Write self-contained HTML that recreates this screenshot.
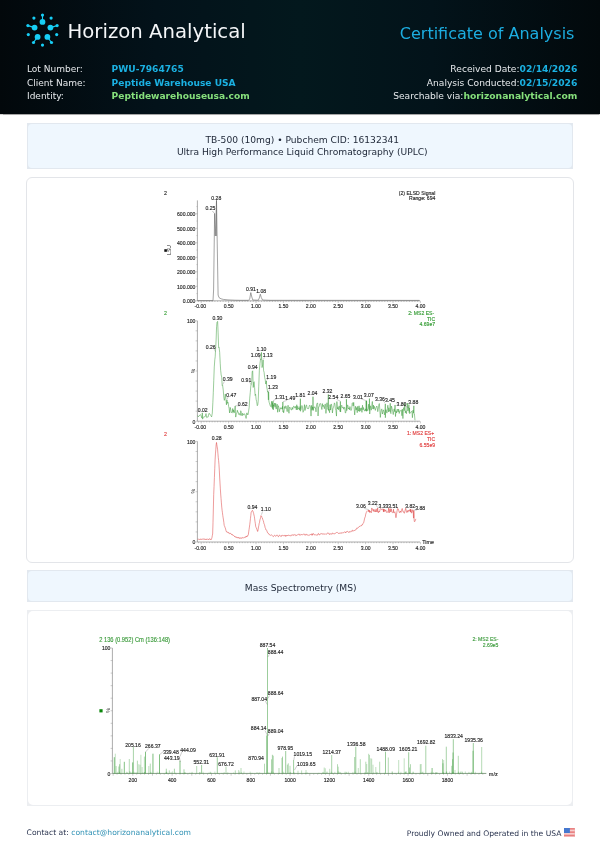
<!DOCTYPE html>
<html lang="en">
<head>
<meta charset="utf-8">
<title>Certificate of Analysis - Horizon Analytical</title>
<style>
*{margin:0;padding:0;box-sizing:border-box}
html,body{width:600px;height:849px;overflow:hidden;background:#fff}
body{position:relative;font-family:"DejaVu Sans","Liberation Sans",sans-serif;color:#1e2a3a}
.hdr{position:absolute;left:0;top:0;width:600px;height:114px;
 background:linear-gradient(90deg,#02080b 0%,#03121a 26%,#03181d 50%,#03131a 72%,#02090c 100%);box-shadow:0 0.6px 1px rgba(0,0,0,.35)}
.logo{position:absolute;left:24px;top:12px;width:38px;height:37px}
.brand{position:absolute;left:67.5px;top:20.2px;font-size:19.7px;color:#f4f6f8;white-space:nowrap;letter-spacing:0}
.coa{position:absolute;right:25.6px;top:24px;font-size:16px;color:#1cade0;white-space:nowrap}
.info{position:absolute;font-size:9px;line-height:11px;white-space:nowrap;color:#e6e9ec}
.info.l{left:27px}
.info.l span{display:inline-block}
.info.l .k{width:84.6px}
.info.r{right:22.6px;text-align:right;font-size:9.12px}
.info.r .b{font-size:9.2px}
.b{font-weight:bold;font-size:9.1px}
.cy{color:#1bb1e2}
.gr{color:#86e07c}
.box{position:absolute;left:27px;width:546px}
.tbox{background:#e2e8ef;padding:1px}
.tbox .in{background:#eff7fe;border-radius:4px;height:100%;text-align:center;color:#1d2636;font-size:9.13px}
.b1{top:122.5px;height:46.5px}
.b1 .in{padding-top:10.2px;padding-left:4.6px;line-height:12.6px}
.b2{top:177px;left:26px;width:548px;height:386px;border:1px solid #e3e5e9;border-radius:6px}
.b3{top:570px;height:31.7px}
.b3 .in{padding-top:11.1px;padding-left:1.4px;line-height:12px}
.b4{top:610px;height:196.3px;background:#eceef1;padding:1px}
.b4 .in{background:#fff;border-radius:5px;height:100%}
.foot{position:absolute;top:827.8px;font-size:7.62px;color:#2b3550;white-space:nowrap;line-height:10px}
.foot.l{left:26.6px}
.foot.r{right:25.5px}
.foot a{color:#3192b5;text-decoration:none}
.flag{display:inline-block;width:10.8px;height:9.3px;vertical-align:-1.6px;margin-left:2.3px}
svg.charts{position:absolute;left:0;top:0;width:600px;height:849px;font-family:"Liberation Sans",Arial,sans-serif}
</style>
</head>
<body>
<div class="hdr">
  <svg class="logo" viewBox="24 12 38 37" width="38" height="37">
    <g fill="#17cef5" stroke="#17cef5">
      <g stroke-width="1.1">
        <line x1="42.5" y1="15.1" x2="42.5" y2="21.9"/>
        <line x1="27.9" y1="25.6" x2="34.6" y2="27.6"/>
        <line x1="57.1" y1="25.6" x2="50.4" y2="27.6"/>
        <line x1="33.5" y1="42.5" x2="37.6" y2="36.9"/>
        <line x1="51.5" y1="42.5" x2="47.4" y2="36.9"/>
      </g>
      <g stroke="none">
        <circle cx="42.5" cy="21.9" r="2.9"/>
        <circle cx="34.6" cy="27.6" r="2.9"/>
        <circle cx="50.4" cy="27.6" r="2.9"/>
        <circle cx="37.6" cy="36.9" r="2.9"/>
        <circle cx="47.4" cy="36.9" r="2.9"/>
        <circle cx="42.5" cy="15.1" r="1.6"/>
        <circle cx="27.9" cy="25.6" r="1.6"/>
        <circle cx="57.1" cy="25.6" r="1.6"/>
        <circle cx="33.5" cy="42.5" r="1.6"/>
        <circle cx="51.5" cy="42.5" r="1.6"/>
        <circle cx="33.9" cy="18.1" r="1.6"/>
        <circle cx="51.1" cy="18.1" r="1.6"/>
        <circle cx="28.3" cy="34.6" r="1.6"/>
        <circle cx="56.7" cy="34.6" r="1.6"/>
        <circle cx="42.5" cy="45.1" r="1.6"/>
      </g>
    </g>
  </svg>
  <div class="brand">Horizon Analytical</div>
  <div class="coa">Certificate of Analysis</div>
  <div class="info l" style="top:64.1px"><span class="k">Lot Number:</span><span class="b cy">PWU-7964765</span></div>
  <div class="info l" style="top:77.5px"><span class="k">Client Name:</span><span class="b cy">Peptide Warehouse USA</span></div>
  <div class="info l" style="top:90.9px"><span class="k">Identity:</span><span class="b gr">Peptidewarehouseusa.com</span></div>
  <div class="info r" style="top:63.3px">Received Date:<span class="b cy">02/14/2026</span></div>
  <div class="info r" style="top:76.7px">Analysis Conducted:<span class="b cy">02/15/2026</span></div>
  <div class="info r" style="top:90.1px">Searchable via:<span class="b gr">horizonanalytical.com</span></div>
</div>
</div>

<div class="box tbox b1"><div class="in">TB-500 (10mg) • Pubchem CID: 16132341<br>Ultra High Performance Liquid Chromatography (UPLC)</div></div>
<div class="box b2"></div>
<div class="box tbox b3"><div class="in">Mass Spectrometry (MS)</div></div>
<div class="box b4"><div class="in"></div></div>

<svg class="charts" viewBox="0 0 600 849" width="600" height="849">
<text transform="translate(165.5 194.6) scale(0.9 1)" font-size="5.89" text-anchor="middle" fill="#222" stroke="#222" stroke-width="0.14">2</text>
<line x1="197.4" y1="200.4" x2="197.4" y2="300.8" stroke="#8a8a8a" stroke-width="0.7"/>
<line x1="195.6" y1="300.8" x2="197.4" y2="300.8" stroke="#8a8a8a" stroke-width="0.45"/>
<text transform="translate(195.4 303.2) scale(0.9 1)" font-size="5.67" text-anchor="end" fill="#222" stroke="#222" stroke-width="0.14">0.000</text>
<line x1="195.6" y1="286.3" x2="197.4" y2="286.3" stroke="#8a8a8a" stroke-width="0.45"/>
<text transform="translate(195.4 288.7) scale(0.9 1)" font-size="5.67" text-anchor="end" fill="#222" stroke="#222" stroke-width="0.14">100.000</text>
<line x1="195.6" y1="271.8" x2="197.4" y2="271.8" stroke="#8a8a8a" stroke-width="0.45"/>
<text transform="translate(195.4 274.2) scale(0.9 1)" font-size="5.67" text-anchor="end" fill="#222" stroke="#222" stroke-width="0.14">200.000</text>
<line x1="195.6" y1="257.3" x2="197.4" y2="257.3" stroke="#8a8a8a" stroke-width="0.45"/>
<text transform="translate(195.4 259.7) scale(0.9 1)" font-size="5.67" text-anchor="end" fill="#222" stroke="#222" stroke-width="0.14">300.000</text>
<line x1="195.6" y1="242.8" x2="197.4" y2="242.8" stroke="#8a8a8a" stroke-width="0.45"/>
<text transform="translate(195.4 245.2) scale(0.9 1)" font-size="5.67" text-anchor="end" fill="#222" stroke="#222" stroke-width="0.14">400.000</text>
<line x1="195.6" y1="228.3" x2="197.4" y2="228.3" stroke="#8a8a8a" stroke-width="0.45"/>
<text transform="translate(195.4 230.7) scale(0.9 1)" font-size="5.67" text-anchor="end" fill="#222" stroke="#222" stroke-width="0.14">500.000</text>
<line x1="195.6" y1="213.8" x2="197.4" y2="213.8" stroke="#8a8a8a" stroke-width="0.45"/>
<text transform="translate(195.4 216.2) scale(0.9 1)" font-size="5.67" text-anchor="end" fill="#222" stroke="#222" stroke-width="0.14">600.000</text>
<line x1="196.4" y1="293.55" x2="197.4" y2="293.55" stroke="#8a8a8a" stroke-width="0.4"/>
<line x1="196.4" y1="279.05" x2="197.4" y2="279.05" stroke="#8a8a8a" stroke-width="0.4"/>
<line x1="196.4" y1="264.55" x2="197.4" y2="264.55" stroke="#8a8a8a" stroke-width="0.4"/>
<line x1="196.4" y1="250.05" x2="197.4" y2="250.05" stroke="#8a8a8a" stroke-width="0.4"/>
<line x1="196.4" y1="235.55" x2="197.4" y2="235.55" stroke="#8a8a8a" stroke-width="0.4"/>
<line x1="196.4" y1="221.05" x2="197.4" y2="221.05" stroke="#8a8a8a" stroke-width="0.4"/>
<line x1="196.4" y1="206.55" x2="197.4" y2="206.55" stroke="#8a8a8a" stroke-width="0.4"/>
<line x1="197.4" y1="300.8" x2="420" y2="300.8" stroke="#8a8a8a" stroke-width="0.7"/>
<line x1="198.46" y1="300.8" x2="198.46" y2="302" stroke="#8a8a8a" stroke-width="0.45"/>
<line x1="201.2" y1="300.8" x2="201.2" y2="303" stroke="#8a8a8a" stroke-width="0.45"/>
<line x1="203.94" y1="300.8" x2="203.94" y2="302" stroke="#8a8a8a" stroke-width="0.45"/>
<line x1="206.68" y1="300.8" x2="206.68" y2="302" stroke="#8a8a8a" stroke-width="0.45"/>
<line x1="209.42" y1="300.8" x2="209.42" y2="302" stroke="#8a8a8a" stroke-width="0.45"/>
<line x1="212.16" y1="300.8" x2="212.16" y2="302" stroke="#8a8a8a" stroke-width="0.45"/>
<line x1="214.9" y1="300.8" x2="214.9" y2="302" stroke="#8a8a8a" stroke-width="0.45"/>
<line x1="217.64" y1="300.8" x2="217.64" y2="302" stroke="#8a8a8a" stroke-width="0.45"/>
<line x1="220.38" y1="300.8" x2="220.38" y2="302" stroke="#8a8a8a" stroke-width="0.45"/>
<line x1="223.12" y1="300.8" x2="223.12" y2="302" stroke="#8a8a8a" stroke-width="0.45"/>
<line x1="225.86" y1="300.8" x2="225.86" y2="302" stroke="#8a8a8a" stroke-width="0.45"/>
<line x1="228.6" y1="300.8" x2="228.6" y2="303" stroke="#8a8a8a" stroke-width="0.45"/>
<line x1="231.34" y1="300.8" x2="231.34" y2="302" stroke="#8a8a8a" stroke-width="0.45"/>
<line x1="234.08" y1="300.8" x2="234.08" y2="302" stroke="#8a8a8a" stroke-width="0.45"/>
<line x1="236.82" y1="300.8" x2="236.82" y2="302" stroke="#8a8a8a" stroke-width="0.45"/>
<line x1="239.56" y1="300.8" x2="239.56" y2="302" stroke="#8a8a8a" stroke-width="0.45"/>
<line x1="242.3" y1="300.8" x2="242.3" y2="302" stroke="#8a8a8a" stroke-width="0.45"/>
<line x1="245.04" y1="300.8" x2="245.04" y2="302" stroke="#8a8a8a" stroke-width="0.45"/>
<line x1="247.78" y1="300.8" x2="247.78" y2="302" stroke="#8a8a8a" stroke-width="0.45"/>
<line x1="250.52" y1="300.8" x2="250.52" y2="302" stroke="#8a8a8a" stroke-width="0.45"/>
<line x1="253.26" y1="300.8" x2="253.26" y2="302" stroke="#8a8a8a" stroke-width="0.45"/>
<line x1="256" y1="300.8" x2="256" y2="303" stroke="#8a8a8a" stroke-width="0.45"/>
<line x1="258.74" y1="300.8" x2="258.74" y2="302" stroke="#8a8a8a" stroke-width="0.45"/>
<line x1="261.48" y1="300.8" x2="261.48" y2="302" stroke="#8a8a8a" stroke-width="0.45"/>
<line x1="264.22" y1="300.8" x2="264.22" y2="302" stroke="#8a8a8a" stroke-width="0.45"/>
<line x1="266.96" y1="300.8" x2="266.96" y2="302" stroke="#8a8a8a" stroke-width="0.45"/>
<line x1="269.7" y1="300.8" x2="269.7" y2="302" stroke="#8a8a8a" stroke-width="0.45"/>
<line x1="272.44" y1="300.8" x2="272.44" y2="302" stroke="#8a8a8a" stroke-width="0.45"/>
<line x1="275.18" y1="300.8" x2="275.18" y2="302" stroke="#8a8a8a" stroke-width="0.45"/>
<line x1="277.92" y1="300.8" x2="277.92" y2="302" stroke="#8a8a8a" stroke-width="0.45"/>
<line x1="280.66" y1="300.8" x2="280.66" y2="302" stroke="#8a8a8a" stroke-width="0.45"/>
<line x1="283.4" y1="300.8" x2="283.4" y2="303" stroke="#8a8a8a" stroke-width="0.45"/>
<line x1="286.14" y1="300.8" x2="286.14" y2="302" stroke="#8a8a8a" stroke-width="0.45"/>
<line x1="288.88" y1="300.8" x2="288.88" y2="302" stroke="#8a8a8a" stroke-width="0.45"/>
<line x1="291.62" y1="300.8" x2="291.62" y2="302" stroke="#8a8a8a" stroke-width="0.45"/>
<line x1="294.36" y1="300.8" x2="294.36" y2="302" stroke="#8a8a8a" stroke-width="0.45"/>
<line x1="297.1" y1="300.8" x2="297.1" y2="302" stroke="#8a8a8a" stroke-width="0.45"/>
<line x1="299.84" y1="300.8" x2="299.84" y2="302" stroke="#8a8a8a" stroke-width="0.45"/>
<line x1="302.58" y1="300.8" x2="302.58" y2="302" stroke="#8a8a8a" stroke-width="0.45"/>
<line x1="305.32" y1="300.8" x2="305.32" y2="302" stroke="#8a8a8a" stroke-width="0.45"/>
<line x1="308.06" y1="300.8" x2="308.06" y2="302" stroke="#8a8a8a" stroke-width="0.45"/>
<line x1="310.8" y1="300.8" x2="310.8" y2="303" stroke="#8a8a8a" stroke-width="0.45"/>
<line x1="313.54" y1="300.8" x2="313.54" y2="302" stroke="#8a8a8a" stroke-width="0.45"/>
<line x1="316.28" y1="300.8" x2="316.28" y2="302" stroke="#8a8a8a" stroke-width="0.45"/>
<line x1="319.02" y1="300.8" x2="319.02" y2="302" stroke="#8a8a8a" stroke-width="0.45"/>
<line x1="321.76" y1="300.8" x2="321.76" y2="302" stroke="#8a8a8a" stroke-width="0.45"/>
<line x1="324.5" y1="300.8" x2="324.5" y2="302" stroke="#8a8a8a" stroke-width="0.45"/>
<line x1="327.24" y1="300.8" x2="327.24" y2="302" stroke="#8a8a8a" stroke-width="0.45"/>
<line x1="329.98" y1="300.8" x2="329.98" y2="302" stroke="#8a8a8a" stroke-width="0.45"/>
<line x1="332.72" y1="300.8" x2="332.72" y2="302" stroke="#8a8a8a" stroke-width="0.45"/>
<line x1="335.46" y1="300.8" x2="335.46" y2="302" stroke="#8a8a8a" stroke-width="0.45"/>
<line x1="338.2" y1="300.8" x2="338.2" y2="303" stroke="#8a8a8a" stroke-width="0.45"/>
<line x1="340.94" y1="300.8" x2="340.94" y2="302" stroke="#8a8a8a" stroke-width="0.45"/>
<line x1="343.68" y1="300.8" x2="343.68" y2="302" stroke="#8a8a8a" stroke-width="0.45"/>
<line x1="346.42" y1="300.8" x2="346.42" y2="302" stroke="#8a8a8a" stroke-width="0.45"/>
<line x1="349.16" y1="300.8" x2="349.16" y2="302" stroke="#8a8a8a" stroke-width="0.45"/>
<line x1="351.9" y1="300.8" x2="351.9" y2="302" stroke="#8a8a8a" stroke-width="0.45"/>
<line x1="354.64" y1="300.8" x2="354.64" y2="302" stroke="#8a8a8a" stroke-width="0.45"/>
<line x1="357.38" y1="300.8" x2="357.38" y2="302" stroke="#8a8a8a" stroke-width="0.45"/>
<line x1="360.12" y1="300.8" x2="360.12" y2="302" stroke="#8a8a8a" stroke-width="0.45"/>
<line x1="362.86" y1="300.8" x2="362.86" y2="302" stroke="#8a8a8a" stroke-width="0.45"/>
<line x1="365.6" y1="300.8" x2="365.6" y2="303" stroke="#8a8a8a" stroke-width="0.45"/>
<line x1="368.34" y1="300.8" x2="368.34" y2="302" stroke="#8a8a8a" stroke-width="0.45"/>
<line x1="371.08" y1="300.8" x2="371.08" y2="302" stroke="#8a8a8a" stroke-width="0.45"/>
<line x1="373.82" y1="300.8" x2="373.82" y2="302" stroke="#8a8a8a" stroke-width="0.45"/>
<line x1="376.56" y1="300.8" x2="376.56" y2="302" stroke="#8a8a8a" stroke-width="0.45"/>
<line x1="379.3" y1="300.8" x2="379.3" y2="302" stroke="#8a8a8a" stroke-width="0.45"/>
<line x1="382.04" y1="300.8" x2="382.04" y2="302" stroke="#8a8a8a" stroke-width="0.45"/>
<line x1="384.78" y1="300.8" x2="384.78" y2="302" stroke="#8a8a8a" stroke-width="0.45"/>
<line x1="387.52" y1="300.8" x2="387.52" y2="302" stroke="#8a8a8a" stroke-width="0.45"/>
<line x1="390.26" y1="300.8" x2="390.26" y2="302" stroke="#8a8a8a" stroke-width="0.45"/>
<line x1="393" y1="300.8" x2="393" y2="303" stroke="#8a8a8a" stroke-width="0.45"/>
<line x1="395.74" y1="300.8" x2="395.74" y2="302" stroke="#8a8a8a" stroke-width="0.45"/>
<line x1="398.48" y1="300.8" x2="398.48" y2="302" stroke="#8a8a8a" stroke-width="0.45"/>
<line x1="401.22" y1="300.8" x2="401.22" y2="302" stroke="#8a8a8a" stroke-width="0.45"/>
<line x1="403.96" y1="300.8" x2="403.96" y2="302" stroke="#8a8a8a" stroke-width="0.45"/>
<line x1="406.7" y1="300.8" x2="406.7" y2="302" stroke="#8a8a8a" stroke-width="0.45"/>
<line x1="409.44" y1="300.8" x2="409.44" y2="302" stroke="#8a8a8a" stroke-width="0.45"/>
<line x1="412.18" y1="300.8" x2="412.18" y2="302" stroke="#8a8a8a" stroke-width="0.45"/>
<line x1="414.92" y1="300.8" x2="414.92" y2="302" stroke="#8a8a8a" stroke-width="0.45"/>
<line x1="417.66" y1="300.8" x2="417.66" y2="302" stroke="#8a8a8a" stroke-width="0.45"/>
<line x1="420.4" y1="300.8" x2="420.4" y2="303" stroke="#8a8a8a" stroke-width="0.45"/>
<text transform="translate(200.3 308.2) scale(0.9 1)" font-size="5.67" text-anchor="middle" fill="#222" stroke="#222" stroke-width="0.14">-0.00</text>
<text transform="translate(228.6 308.2) scale(0.9 1)" font-size="5.67" text-anchor="middle" fill="#222" stroke="#222" stroke-width="0.14">0.50</text>
<text transform="translate(256 308.2) scale(0.9 1)" font-size="5.67" text-anchor="middle" fill="#222" stroke="#222" stroke-width="0.14">1.00</text>
<text transform="translate(283.4 308.2) scale(0.9 1)" font-size="5.67" text-anchor="middle" fill="#222" stroke="#222" stroke-width="0.14">1.50</text>
<text transform="translate(310.8 308.2) scale(0.9 1)" font-size="5.67" text-anchor="middle" fill="#222" stroke="#222" stroke-width="0.14">2.00</text>
<text transform="translate(338.2 308.2) scale(0.9 1)" font-size="5.67" text-anchor="middle" fill="#222" stroke="#222" stroke-width="0.14">2.50</text>
<text transform="translate(365.6 308.2) scale(0.9 1)" font-size="5.67" text-anchor="middle" fill="#222" stroke="#222" stroke-width="0.14">3.00</text>
<text transform="translate(393 308.2) scale(0.9 1)" font-size="5.67" text-anchor="middle" fill="#222" stroke="#222" stroke-width="0.14">3.50</text>
<text transform="translate(420.4 308.2) scale(0.9 1)" font-size="5.67" text-anchor="middle" fill="#222" stroke="#222" stroke-width="0.14">4.00</text>
<text transform="translate(435.3 194.7) scale(0.9 1)" font-size="5.67" text-anchor="end" fill="#222" stroke="#222" stroke-width="0.14">(2) ELSD Signal</text>
<text transform="translate(435.3 200) scale(0.9 1)" font-size="5.67" text-anchor="end" fill="#222" stroke="#222" stroke-width="0.14">Range: 694</text>
<rect x="164.3" y="249.2" width="2.6" height="2.6" fill="#111"/>
<text x="0" y="0" font-size="5.1" text-anchor="middle" fill="#222" transform="translate(171.3,250) rotate(-90)">LSU</text>
<polyline points="197.4,300.6 213,300.6 213.6,290 214.6,213.5 215.3,236 216.5,200.4 217.1,236 218.1,295 219,297.6 221,298.8 223.3,299.4 228,299.9 234.8,300.2 240,300.3 248.5,300.3 249.7,299 250.8,292.6 251.8,297 252.8,300 258.3,300.2 259.3,298 260.3,294.2 261.3,297.5 262.5,300 270,300.3 419.5,300.4" fill="none" stroke="#666" stroke-width="0.6" stroke-linejoin="round"/>
<line x1="216.5" y1="200.4" x2="216.5" y2="236" stroke="#6a6a6a" stroke-width="0.6"/>
<text transform="translate(216.3 199.6) scale(0.9 1)" font-size="5.67" text-anchor="middle" fill="#222" stroke="#222" stroke-width="0.14">0.28</text>
<text transform="translate(210.4 210.2) scale(0.9 1)" font-size="5.67" text-anchor="middle" fill="#222" stroke="#222" stroke-width="0.14">0.25</text>
<line x1="212.4" y1="211" x2="214.6" y2="213.5" stroke="#555" stroke-width="0.35"/>
<text transform="translate(251 291.4) scale(0.9 1)" font-size="5.67" text-anchor="middle" fill="#222" stroke="#222" stroke-width="0.14">0.91</text>
<text transform="translate(261.2 293) scale(0.9 1)" font-size="5.67" text-anchor="middle" fill="#222" stroke="#222" stroke-width="0.14">1.08</text>
<text transform="translate(165.5 315.2) scale(0.9 1)" font-size="5.89" text-anchor="middle" fill="#3aa03a" stroke="#3aa03a" stroke-width="0.14">2</text>
<line x1="197.4" y1="320.8" x2="197.4" y2="421.2" stroke="#8a8a8a" stroke-width="0.7"/>
<line x1="195.6" y1="320.8" x2="197.4" y2="320.8" stroke="#8a8a8a" stroke-width="0.45"/>
<text transform="translate(195.4 323.2) scale(0.9 1)" font-size="5.67" text-anchor="end" fill="#222" stroke="#222" stroke-width="0.14">100</text>
<line x1="195.6" y1="421.2" x2="197.4" y2="421.2" stroke="#8a8a8a" stroke-width="0.45"/>
<text transform="translate(195.4 423.6) scale(0.9 1)" font-size="5.67" text-anchor="end" fill="#222" stroke="#222" stroke-width="0.14">0</text>
<line x1="195.6" y1="411.16" x2="197.4" y2="411.16" stroke="#8a8a8a" stroke-width="0.45"/>
<line x1="195.6" y1="401.12" x2="197.4" y2="401.12" stroke="#8a8a8a" stroke-width="0.45"/>
<line x1="195.6" y1="391.08" x2="197.4" y2="391.08" stroke="#8a8a8a" stroke-width="0.45"/>
<line x1="195.6" y1="381.04" x2="197.4" y2="381.04" stroke="#8a8a8a" stroke-width="0.45"/>
<line x1="195.6" y1="371" x2="197.4" y2="371" stroke="#8a8a8a" stroke-width="0.45"/>
<line x1="195.6" y1="360.96" x2="197.4" y2="360.96" stroke="#8a8a8a" stroke-width="0.45"/>
<line x1="195.6" y1="350.92" x2="197.4" y2="350.92" stroke="#8a8a8a" stroke-width="0.45"/>
<line x1="195.6" y1="340.88" x2="197.4" y2="340.88" stroke="#8a8a8a" stroke-width="0.45"/>
<line x1="195.6" y1="330.84" x2="197.4" y2="330.84" stroke="#8a8a8a" stroke-width="0.45"/>
<line x1="197.4" y1="421.2" x2="420" y2="421.2" stroke="#8a8a8a" stroke-width="0.7"/>
<line x1="198.46" y1="421.2" x2="198.46" y2="422.4" stroke="#8a8a8a" stroke-width="0.45"/>
<line x1="201.2" y1="421.2" x2="201.2" y2="423.4" stroke="#8a8a8a" stroke-width="0.45"/>
<line x1="203.94" y1="421.2" x2="203.94" y2="422.4" stroke="#8a8a8a" stroke-width="0.45"/>
<line x1="206.68" y1="421.2" x2="206.68" y2="422.4" stroke="#8a8a8a" stroke-width="0.45"/>
<line x1="209.42" y1="421.2" x2="209.42" y2="422.4" stroke="#8a8a8a" stroke-width="0.45"/>
<line x1="212.16" y1="421.2" x2="212.16" y2="422.4" stroke="#8a8a8a" stroke-width="0.45"/>
<line x1="214.9" y1="421.2" x2="214.9" y2="422.4" stroke="#8a8a8a" stroke-width="0.45"/>
<line x1="217.64" y1="421.2" x2="217.64" y2="422.4" stroke="#8a8a8a" stroke-width="0.45"/>
<line x1="220.38" y1="421.2" x2="220.38" y2="422.4" stroke="#8a8a8a" stroke-width="0.45"/>
<line x1="223.12" y1="421.2" x2="223.12" y2="422.4" stroke="#8a8a8a" stroke-width="0.45"/>
<line x1="225.86" y1="421.2" x2="225.86" y2="422.4" stroke="#8a8a8a" stroke-width="0.45"/>
<line x1="228.6" y1="421.2" x2="228.6" y2="423.4" stroke="#8a8a8a" stroke-width="0.45"/>
<line x1="231.34" y1="421.2" x2="231.34" y2="422.4" stroke="#8a8a8a" stroke-width="0.45"/>
<line x1="234.08" y1="421.2" x2="234.08" y2="422.4" stroke="#8a8a8a" stroke-width="0.45"/>
<line x1="236.82" y1="421.2" x2="236.82" y2="422.4" stroke="#8a8a8a" stroke-width="0.45"/>
<line x1="239.56" y1="421.2" x2="239.56" y2="422.4" stroke="#8a8a8a" stroke-width="0.45"/>
<line x1="242.3" y1="421.2" x2="242.3" y2="422.4" stroke="#8a8a8a" stroke-width="0.45"/>
<line x1="245.04" y1="421.2" x2="245.04" y2="422.4" stroke="#8a8a8a" stroke-width="0.45"/>
<line x1="247.78" y1="421.2" x2="247.78" y2="422.4" stroke="#8a8a8a" stroke-width="0.45"/>
<line x1="250.52" y1="421.2" x2="250.52" y2="422.4" stroke="#8a8a8a" stroke-width="0.45"/>
<line x1="253.26" y1="421.2" x2="253.26" y2="422.4" stroke="#8a8a8a" stroke-width="0.45"/>
<line x1="256" y1="421.2" x2="256" y2="423.4" stroke="#8a8a8a" stroke-width="0.45"/>
<line x1="258.74" y1="421.2" x2="258.74" y2="422.4" stroke="#8a8a8a" stroke-width="0.45"/>
<line x1="261.48" y1="421.2" x2="261.48" y2="422.4" stroke="#8a8a8a" stroke-width="0.45"/>
<line x1="264.22" y1="421.2" x2="264.22" y2="422.4" stroke="#8a8a8a" stroke-width="0.45"/>
<line x1="266.96" y1="421.2" x2="266.96" y2="422.4" stroke="#8a8a8a" stroke-width="0.45"/>
<line x1="269.7" y1="421.2" x2="269.7" y2="422.4" stroke="#8a8a8a" stroke-width="0.45"/>
<line x1="272.44" y1="421.2" x2="272.44" y2="422.4" stroke="#8a8a8a" stroke-width="0.45"/>
<line x1="275.18" y1="421.2" x2="275.18" y2="422.4" stroke="#8a8a8a" stroke-width="0.45"/>
<line x1="277.92" y1="421.2" x2="277.92" y2="422.4" stroke="#8a8a8a" stroke-width="0.45"/>
<line x1="280.66" y1="421.2" x2="280.66" y2="422.4" stroke="#8a8a8a" stroke-width="0.45"/>
<line x1="283.4" y1="421.2" x2="283.4" y2="423.4" stroke="#8a8a8a" stroke-width="0.45"/>
<line x1="286.14" y1="421.2" x2="286.14" y2="422.4" stroke="#8a8a8a" stroke-width="0.45"/>
<line x1="288.88" y1="421.2" x2="288.88" y2="422.4" stroke="#8a8a8a" stroke-width="0.45"/>
<line x1="291.62" y1="421.2" x2="291.62" y2="422.4" stroke="#8a8a8a" stroke-width="0.45"/>
<line x1="294.36" y1="421.2" x2="294.36" y2="422.4" stroke="#8a8a8a" stroke-width="0.45"/>
<line x1="297.1" y1="421.2" x2="297.1" y2="422.4" stroke="#8a8a8a" stroke-width="0.45"/>
<line x1="299.84" y1="421.2" x2="299.84" y2="422.4" stroke="#8a8a8a" stroke-width="0.45"/>
<line x1="302.58" y1="421.2" x2="302.58" y2="422.4" stroke="#8a8a8a" stroke-width="0.45"/>
<line x1="305.32" y1="421.2" x2="305.32" y2="422.4" stroke="#8a8a8a" stroke-width="0.45"/>
<line x1="308.06" y1="421.2" x2="308.06" y2="422.4" stroke="#8a8a8a" stroke-width="0.45"/>
<line x1="310.8" y1="421.2" x2="310.8" y2="423.4" stroke="#8a8a8a" stroke-width="0.45"/>
<line x1="313.54" y1="421.2" x2="313.54" y2="422.4" stroke="#8a8a8a" stroke-width="0.45"/>
<line x1="316.28" y1="421.2" x2="316.28" y2="422.4" stroke="#8a8a8a" stroke-width="0.45"/>
<line x1="319.02" y1="421.2" x2="319.02" y2="422.4" stroke="#8a8a8a" stroke-width="0.45"/>
<line x1="321.76" y1="421.2" x2="321.76" y2="422.4" stroke="#8a8a8a" stroke-width="0.45"/>
<line x1="324.5" y1="421.2" x2="324.5" y2="422.4" stroke="#8a8a8a" stroke-width="0.45"/>
<line x1="327.24" y1="421.2" x2="327.24" y2="422.4" stroke="#8a8a8a" stroke-width="0.45"/>
<line x1="329.98" y1="421.2" x2="329.98" y2="422.4" stroke="#8a8a8a" stroke-width="0.45"/>
<line x1="332.72" y1="421.2" x2="332.72" y2="422.4" stroke="#8a8a8a" stroke-width="0.45"/>
<line x1="335.46" y1="421.2" x2="335.46" y2="422.4" stroke="#8a8a8a" stroke-width="0.45"/>
<line x1="338.2" y1="421.2" x2="338.2" y2="423.4" stroke="#8a8a8a" stroke-width="0.45"/>
<line x1="340.94" y1="421.2" x2="340.94" y2="422.4" stroke="#8a8a8a" stroke-width="0.45"/>
<line x1="343.68" y1="421.2" x2="343.68" y2="422.4" stroke="#8a8a8a" stroke-width="0.45"/>
<line x1="346.42" y1="421.2" x2="346.42" y2="422.4" stroke="#8a8a8a" stroke-width="0.45"/>
<line x1="349.16" y1="421.2" x2="349.16" y2="422.4" stroke="#8a8a8a" stroke-width="0.45"/>
<line x1="351.9" y1="421.2" x2="351.9" y2="422.4" stroke="#8a8a8a" stroke-width="0.45"/>
<line x1="354.64" y1="421.2" x2="354.64" y2="422.4" stroke="#8a8a8a" stroke-width="0.45"/>
<line x1="357.38" y1="421.2" x2="357.38" y2="422.4" stroke="#8a8a8a" stroke-width="0.45"/>
<line x1="360.12" y1="421.2" x2="360.12" y2="422.4" stroke="#8a8a8a" stroke-width="0.45"/>
<line x1="362.86" y1="421.2" x2="362.86" y2="422.4" stroke="#8a8a8a" stroke-width="0.45"/>
<line x1="365.6" y1="421.2" x2="365.6" y2="423.4" stroke="#8a8a8a" stroke-width="0.45"/>
<line x1="368.34" y1="421.2" x2="368.34" y2="422.4" stroke="#8a8a8a" stroke-width="0.45"/>
<line x1="371.08" y1="421.2" x2="371.08" y2="422.4" stroke="#8a8a8a" stroke-width="0.45"/>
<line x1="373.82" y1="421.2" x2="373.82" y2="422.4" stroke="#8a8a8a" stroke-width="0.45"/>
<line x1="376.56" y1="421.2" x2="376.56" y2="422.4" stroke="#8a8a8a" stroke-width="0.45"/>
<line x1="379.3" y1="421.2" x2="379.3" y2="422.4" stroke="#8a8a8a" stroke-width="0.45"/>
<line x1="382.04" y1="421.2" x2="382.04" y2="422.4" stroke="#8a8a8a" stroke-width="0.45"/>
<line x1="384.78" y1="421.2" x2="384.78" y2="422.4" stroke="#8a8a8a" stroke-width="0.45"/>
<line x1="387.52" y1="421.2" x2="387.52" y2="422.4" stroke="#8a8a8a" stroke-width="0.45"/>
<line x1="390.26" y1="421.2" x2="390.26" y2="422.4" stroke="#8a8a8a" stroke-width="0.45"/>
<line x1="393" y1="421.2" x2="393" y2="423.4" stroke="#8a8a8a" stroke-width="0.45"/>
<line x1="395.74" y1="421.2" x2="395.74" y2="422.4" stroke="#8a8a8a" stroke-width="0.45"/>
<line x1="398.48" y1="421.2" x2="398.48" y2="422.4" stroke="#8a8a8a" stroke-width="0.45"/>
<line x1="401.22" y1="421.2" x2="401.22" y2="422.4" stroke="#8a8a8a" stroke-width="0.45"/>
<line x1="403.96" y1="421.2" x2="403.96" y2="422.4" stroke="#8a8a8a" stroke-width="0.45"/>
<line x1="406.7" y1="421.2" x2="406.7" y2="422.4" stroke="#8a8a8a" stroke-width="0.45"/>
<line x1="409.44" y1="421.2" x2="409.44" y2="422.4" stroke="#8a8a8a" stroke-width="0.45"/>
<line x1="412.18" y1="421.2" x2="412.18" y2="422.4" stroke="#8a8a8a" stroke-width="0.45"/>
<line x1="414.92" y1="421.2" x2="414.92" y2="422.4" stroke="#8a8a8a" stroke-width="0.45"/>
<line x1="417.66" y1="421.2" x2="417.66" y2="422.4" stroke="#8a8a8a" stroke-width="0.45"/>
<line x1="420.4" y1="421.2" x2="420.4" y2="423.4" stroke="#8a8a8a" stroke-width="0.45"/>
<text transform="translate(200.3 428.6) scale(0.9 1)" font-size="5.67" text-anchor="middle" fill="#222" stroke="#222" stroke-width="0.14">-0.00</text>
<text transform="translate(228.6 428.6) scale(0.9 1)" font-size="5.67" text-anchor="middle" fill="#222" stroke="#222" stroke-width="0.14">0.50</text>
<text transform="translate(256 428.6) scale(0.9 1)" font-size="5.67" text-anchor="middle" fill="#222" stroke="#222" stroke-width="0.14">1.00</text>
<text transform="translate(283.4 428.6) scale(0.9 1)" font-size="5.67" text-anchor="middle" fill="#222" stroke="#222" stroke-width="0.14">1.50</text>
<text transform="translate(310.8 428.6) scale(0.9 1)" font-size="5.67" text-anchor="middle" fill="#222" stroke="#222" stroke-width="0.14">2.00</text>
<text transform="translate(338.2 428.6) scale(0.9 1)" font-size="5.67" text-anchor="middle" fill="#222" stroke="#222" stroke-width="0.14">2.50</text>
<text transform="translate(365.6 428.6) scale(0.9 1)" font-size="5.67" text-anchor="middle" fill="#222" stroke="#222" stroke-width="0.14">3.00</text>
<text transform="translate(393 428.6) scale(0.9 1)" font-size="5.67" text-anchor="middle" fill="#222" stroke="#222" stroke-width="0.14">3.50</text>
<text transform="translate(420.4 428.6) scale(0.9 1)" font-size="5.67" text-anchor="middle" fill="#222" stroke="#222" stroke-width="0.14">4.00</text>
<text transform="translate(434.2 315.1) scale(0.9 1)" font-size="5.67" text-anchor="end" fill="#2f9a2f" stroke="#2f9a2f" stroke-width="0.14">2: MS2 ES-</text>
<text transform="translate(435.1 320.6) scale(0.9 1)" font-size="5.67" text-anchor="end" fill="#2f9a2f" stroke="#2f9a2f" stroke-width="0.14">TIC</text>
<text transform="translate(435.1 326.1) scale(0.9 1)" font-size="5.67" text-anchor="end" fill="#2f9a2f" stroke="#2f9a2f" stroke-width="0.14">4.69e7</text>
<text x="0" y="0" font-size="5.1" text-anchor="middle" fill="#222" transform="translate(195.4,371) rotate(-90)">%</text>
<polyline points="197.6,415.59 198.3,416.84 199,415.68 199.7,415.55 200.4,414.59 201.1,415.76 201.8,417.9 202.05,418.13 202.3,412.9 202.5,416.81 202.55,419.13 203.2,417.81 203.9,416.57 204.6,416.83 205.3,416.51 206,413.57 206.7,417.62 207.4,417.08 208.1,417.09 208.8,413.6 209.5,413.54 210.2,414.93 210.9,415.62 211.6,416.88 212.3,413.14 212.87,402.36 213.3,392.38 213.76,380.67 214.27,366.96 214.8,359.69 215.21,356.67 215.45,352 216.11,339.99 216.57,326.71 217.03,322.23 217.64,321.4 218.11,332.84 218.61,347.44 219.07,346.98 219.67,352.25 220.22,363.23 220.65,370.25 221.18,374.88 221.73,377.32 222.2,385.38 222.57,385 223.23,389.9 223.8,397.06 224.33,400.37 224.74,398.19 225.34,393.96 225.9,399.12 226.44,404.84 226.96,400 227.27,403.38 227.68,402.17 228.13,402.29 228.6,406.24 229.09,408.26 229.6,412.94 230.18,407.39 230.63,408.99 231.21,412.59 231.8,412.41 232.25,412.84 232.69,408.51 233.15,412.08 233.55,409.84 234.06,413.07 234.65,410.99 235.18,406 235.71,417.09 236.27,414.05 236.84,413.15 237.32,410.24 237.74,412.03 238.16,412.03 238.6,413.9 239.01,414.69 239.41,413.54 239.88,413.88 240.29,415.37 240.72,410.73 241.17,411.83 241.59,415.06 242.16,415.94 242.66,413.2 243.07,415.12 243.53,414.73 244.09,413.76 244.68,413.99 245.19,415.43 245.59,416.05 246.1,418.46 246.64,413.14 247.09,412.86 247.65,414.98 248.15,414.35 248.6,411.05 249.16,407.46 249.72,398.18 250.28,392.52 250.79,386.19 251.07,385 251.71,382.06 252.17,371.81 252.71,370.8 253.24,387.47 253.72,382.21 254.16,381.74 254.6,387.58 255.13,395.45 255.62,394.31 256.15,399.54 256.68,401.62 257.27,405.72 257.76,404.78 258.2,401.3 258.76,386.28 259.35,370.23 259.94,363.68 260.49,359.44 260.93,360 261.48,352.4 262.06,367.59 262.66,364.98 263.12,360 263.59,370.57 264.12,372.34 264.63,377.39 265.2,379.54 265.77,384.05 266.41,381 266.68,386.9 267.16,389.07 267.59,392.13 268.08,391.4 268.35,399.9 268.59,399.19 268.6,392 268.85,400.9 269.18,402.33 269.68,403.98 270.08,405.31 270.57,406.37 271.13,406.67 271.56,401.3 272.08,407.55 272.54,402.63 272.74,408.93 272.99,401 273.1,406.48 273.24,409.93 273.52,404.76 273.97,406.29 274.53,403.13 275.08,407.29 275.66,403.24 276.16,409.09 276.67,406.22 277.17,404.11 277.67,412.27 278.24,405.66 278.83,407.25 279.42,411.72 279.99,408.59 280.48,408.78 280.89,407.58 281.43,408.78 281.98,409.03 282.53,406.35 282.6,409.5 282.85,402 283.06,411.76 283.1,410.5 283.65,412.85 284.1,410.68 284.59,406.52 285.19,408.47 285.68,405.8 286.18,406.34 286.64,409.35 287.19,411.66 287.68,408.01 288.08,405.24 288.58,411.52 289,413.29 289.59,406.96 290.01,407.41 290.57,408.43 291.02,409.87 291.6,410.01 292.17,407.4 292.75,409.37 293.27,407.06 293.68,406.14 294.21,406.36 294.8,408.08 295.33,407.94 295.9,406.19 296.31,409.86 296.78,404.74 297.29,409.83 297.72,406.34 298.22,407.62 298.66,409.08 299.07,408.35 299.53,410.22 300.08,406.53 300.14,409.5 300.39,398.7 300.51,411.26 300.64,410.5 300.98,409.99 301.39,407.79 301.93,405.47 302.43,406.83 303.01,412.29 303.5,411.28 304,409.17 304.5,404.66 305.04,410.5 305.61,407.17 306.15,405.29 306.62,404.97 307.03,408.37 307.58,408.42 308.03,408.22 308.6,408.69 309.17,406.21 309.62,405.14 310.08,405.63 310.57,407.99 311.02,416.08 311.53,405.39 311.98,410.27 312.45,406.89 312.74,409.5 312.85,404.74 312.99,396.7 313.24,410.5 313.35,410.04 313.79,407.17 314.24,407.49 314.66,406.72 315.06,408.07 315.52,407.97 316.03,411.85 316.58,404.63 317.16,403.12 317.63,403.11 318.06,415.97 318.61,406.89 319.18,406.73 319.75,403.76 320.32,403.65 320.74,403.63 321.31,406.92 321.87,409.52 322.45,403.62 322.99,406.67 323.39,405.26 323.82,406.5 324.39,408.69 324.9,404.28 325.44,404.17 325.93,413.4 326.48,407.62 326.98,402.78 327.4,406.44 327.94,407.48 328.09,409.5 328.34,394.5 328.4,408.8 328.59,410.5 328.94,409 329.54,412.7 330.04,404.71 330.57,410.04 331.13,403.99 331.54,404.32 331.97,407.37 332.43,412.94 332.95,408.66 333.4,407.59 333.94,405.74 334.39,402.87 334.9,403.89 335.32,408.31 335.9,410.36 336.49,416.08 336.89,401.59 337.48,409.06 337.97,407.24 338.56,409.75 339,405.91 339.51,406.61 340.1,411.61 340.14,409.5 340.39,401.5 340.6,412.02 340.64,410.5 341.18,406.81 341.76,405.21 342.26,407.78 342.75,407.54 343.24,406.92 343.71,409.22 344.18,407.6 344.73,407.34 345.29,412.99 345.84,412.66 346.17,409.5 346.42,406.71 346.42,399.2 346.67,410.5 346.9,410.59 347.5,404.86 347.98,405.84 348.44,408.96 349,407.96 349.46,409.8 349.91,406.52 350.42,408.7 351.01,410.52 351.58,409.35 352.17,403.3 352.75,402.63 353.16,406.06 353.71,402.43 354.24,409.39 354.7,414.93 355.12,410.04 355.62,406.24 356.16,410.12 356.76,407.53 357.22,412.67 357.73,406.31 358.16,409.14 358.61,411.14 359.05,405.8 359.63,411.59 360.06,407.92 360.5,410.57 360.92,409.67 361.36,407.84 361.94,412.38 362.49,405.21 363,409.93 363.47,407.55 363.93,409.2 364.52,410.97 365.05,411.03 365.62,408.84 365.9,410.31 366.07,410.87 366.15,401 366.4,411.31 366.55,400.61 367.12,411.09 367.69,409.22 368.23,408.53 368.81,404.11 369.19,410.47 369.21,409.19 369.44,398.6 369.69,411.47 369.69,414.01 370.26,405.78 370.86,408.56 371.29,410.15 371.79,405.33 372.34,401.46 372.87,408.98 373.38,405.04 373.78,409.17 374.37,406.37 374.9,408.17 375.35,410.4 375.88,408.28 376.29,407.29 376.79,406 377.24,407.23 377.76,411.68 378.25,409.1 378.84,404.73 379.34,403.57 379.79,409.14 380.33,417.41 380.79,412.89 381.32,409.61 381.81,408.88 382.39,414.03 382.84,412.1 383.32,409.83 383.86,411.12 384.41,414.84 384.91,411.71 385.08,411.31 385.33,404 385.37,417.71 385.58,412.31 385.93,409.63 386.48,411.7 386.94,413.1 387.38,408.29 387.83,405.23 388.42,411.93 388.84,407.73 389.44,410.97 389.87,410.68 390.01,411.6 390.26,403.3 390.35,409.98 390.51,412.6 390.93,413.63 391.53,406.1 392.11,408.7 392.7,411.6 393.25,414.56 393.72,410.78 394.2,408.85 394.6,411.61 395.06,404.98 395.48,416.53 396.07,410.77 396.64,412.97 397.2,409.06 397.7,410.47 398.17,411.96 398.64,409.05 399.22,413.46 399.79,410.81 400.34,411.05 400.75,410.44 401.34,410.01 401.92,415.76 402.38,409.16 402.91,418.57 403.36,409.77 403.81,407.59 404.21,410.69 404.74,403.11 405.33,412.87 405.83,410.88 406.42,413.68 406.87,409.65 407.35,403.04 407.79,410.95 408.35,410.22 408.9,404.58 409.19,412.73 409.43,409.37 409.44,408 409.69,413.73 409.9,413.32 410.45,412.72 411.01,411.87 411.45,411.65 411.97,411.22 412.43,417.7 413.03,410.1 413.48,412.25 413.57,412.99 413.82,405.8 413.98,411.75 414.07,413.99 414.4,414 415,420.3" fill="none" stroke="#3a9a3a" stroke-width="0.6" stroke-linejoin="round" stroke-opacity="0.85"/>
<text transform="translate(202.6 411.5) scale(0.9 1)" font-size="5.67" text-anchor="middle" fill="#222" stroke="#222" stroke-width="0.14">0.02</text>
<text transform="translate(217.4 320) scale(0.9 1)" font-size="5.67" text-anchor="middle" fill="#222" stroke="#222" stroke-width="0.14">0.30</text>
<text transform="translate(210.7 348.6) scale(0.9 1)" font-size="5.67" text-anchor="middle" fill="#222" stroke="#222" stroke-width="0.14">0.26</text>
<line x1="213.9" y1="348.7" x2="215.45" y2="351.7" stroke="#666" stroke-width="0.32"/>
<text transform="translate(227.6 381.4) scale(0.9 1)" font-size="5.67" text-anchor="middle" fill="#222" stroke="#222" stroke-width="0.14">0.39</text>
<line x1="224.4" y1="381.5" x2="222.57" y2="384.7" stroke="#666" stroke-width="0.32"/>
<text transform="translate(231.3 396.9) scale(0.9 1)" font-size="5.67" text-anchor="middle" fill="#222" stroke="#222" stroke-width="0.14">0.47</text>
<line x1="228.1" y1="397" x2="226.96" y2="399.7" stroke="#666" stroke-width="0.32"/>
<text transform="translate(242.6 405.7) scale(0.9 1)" font-size="5.67" text-anchor="middle" fill="#222" stroke="#222" stroke-width="0.14">0.62</text>
<line x1="239.4" y1="405.8" x2="235.18" y2="405.7" stroke="#666" stroke-width="0.32"/>
<text transform="translate(246.3 381.9) scale(0.9 1)" font-size="5.67" text-anchor="middle" fill="#222" stroke="#222" stroke-width="0.14">0.91</text>
<line x1="249.5" y1="382" x2="251.07" y2="384.7" stroke="#666" stroke-width="0.32"/>
<text transform="translate(252.6 369.4) scale(0.9 1)" font-size="5.67" text-anchor="middle" fill="#222" stroke="#222" stroke-width="0.14">0.94</text>
<text transform="translate(261.4 351) scale(0.9 1)" font-size="5.67" text-anchor="middle" fill="#222" stroke="#222" stroke-width="0.14">1.10</text>
<text transform="translate(255.7 356.6) scale(0.9 1)" font-size="5.67" text-anchor="middle" fill="#222" stroke="#222" stroke-width="0.14">1.09</text>
<line x1="258.9" y1="356.7" x2="260.93" y2="359.7" stroke="#666" stroke-width="0.32"/>
<text transform="translate(267.7 357.3) scale(0.9 1)" font-size="5.67" text-anchor="middle" fill="#222" stroke="#222" stroke-width="0.14">1.13</text>
<line x1="264.5" y1="357.4" x2="263.12" y2="359.7" stroke="#666" stroke-width="0.32"/>
<text transform="translate(271.3 378.6) scale(0.9 1)" font-size="5.67" text-anchor="middle" fill="#222" stroke="#222" stroke-width="0.14">1.19</text>
<line x1="268.1" y1="378.7" x2="266.41" y2="380.7" stroke="#666" stroke-width="0.32"/>
<text transform="translate(273 389.3) scale(0.9 1)" font-size="5.67" text-anchor="middle" fill="#222" stroke="#222" stroke-width="0.14">1.23</text>
<line x1="269.8" y1="389.4" x2="268.6" y2="391.7" stroke="#666" stroke-width="0.32"/>
<text transform="translate(280 398.6) scale(0.9 1)" font-size="5.67" text-anchor="middle" fill="#222" stroke="#222" stroke-width="0.14">1.31</text>
<line x1="276.8" y1="398.7" x2="272.99" y2="400.7" stroke="#666" stroke-width="0.32"/>
<text transform="translate(290.3 400.3) scale(0.9 1)" font-size="5.67" text-anchor="middle" fill="#222" stroke="#222" stroke-width="0.14">1.49</text>
<line x1="287.1" y1="400.4" x2="282.85" y2="401.7" stroke="#666" stroke-width="0.32"/>
<text transform="translate(300.3 397.3) scale(0.9 1)" font-size="5.67" text-anchor="middle" fill="#222" stroke="#222" stroke-width="0.14">1.81</text>
<text transform="translate(312.5 395.3) scale(0.9 1)" font-size="5.67" text-anchor="middle" fill="#222" stroke="#222" stroke-width="0.14">2.04</text>
<text transform="translate(327.5 393.1) scale(0.9 1)" font-size="5.67" text-anchor="middle" fill="#222" stroke="#222" stroke-width="0.14">2.32</text>
<text transform="translate(333.3 399.3) scale(0.9 1)" font-size="5.67" text-anchor="middle" fill="#222" stroke="#222" stroke-width="0.14">2.54</text>
<line x1="336.5" y1="399.4" x2="340.39" y2="401.2" stroke="#666" stroke-width="0.32"/>
<text transform="translate(345.5 397.8) scale(0.9 1)" font-size="5.67" text-anchor="middle" fill="#222" stroke="#222" stroke-width="0.14">2.65</text>
<text transform="translate(358 398.8) scale(0.9 1)" font-size="5.67" text-anchor="middle" fill="#222" stroke="#222" stroke-width="0.14">3.01</text>
<line x1="361.2" y1="398.9" x2="366.15" y2="400.7" stroke="#666" stroke-width="0.32"/>
<text transform="translate(368.8 397.2) scale(0.9 1)" font-size="5.67" text-anchor="middle" fill="#222" stroke="#222" stroke-width="0.14">3.07</text>
<text transform="translate(380 400.6) scale(0.9 1)" font-size="5.67" text-anchor="middle" fill="#222" stroke="#222" stroke-width="0.14">3.36</text>
<line x1="383.2" y1="400.7" x2="385.33" y2="403.7" stroke="#666" stroke-width="0.32"/>
<text transform="translate(390 401.9) scale(0.9 1)" font-size="5.67" text-anchor="middle" fill="#222" stroke="#222" stroke-width="0.14">3.45</text>
<text transform="translate(401.5 406.1) scale(0.9 1)" font-size="5.67" text-anchor="middle" fill="#222" stroke="#222" stroke-width="0.14">3.80</text>
<line x1="404.7" y1="406.2" x2="409.44" y2="407.7" stroke="#666" stroke-width="0.32"/>
<text transform="translate(413.3 404.4) scale(0.9 1)" font-size="5.67" text-anchor="middle" fill="#222" stroke="#222" stroke-width="0.14">3.88</text>
<text transform="translate(165.5 435.8) scale(0.9 1)" font-size="5.89" text-anchor="middle" fill="#e04040" stroke="#e04040" stroke-width="0.14">2</text>
<line x1="197.4" y1="441.4" x2="197.4" y2="542" stroke="#8a8a8a" stroke-width="0.7"/>
<line x1="195.6" y1="441.4" x2="197.4" y2="441.4" stroke="#8a8a8a" stroke-width="0.45"/>
<text transform="translate(195.4 443.8) scale(0.9 1)" font-size="5.67" text-anchor="end" fill="#222" stroke="#222" stroke-width="0.14">100</text>
<line x1="195.6" y1="542" x2="197.4" y2="542" stroke="#8a8a8a" stroke-width="0.45"/>
<text transform="translate(195.4 544.4) scale(0.9 1)" font-size="5.67" text-anchor="end" fill="#222" stroke="#222" stroke-width="0.14">0</text>
<line x1="195.6" y1="531.94" x2="197.4" y2="531.94" stroke="#8a8a8a" stroke-width="0.45"/>
<line x1="195.6" y1="521.88" x2="197.4" y2="521.88" stroke="#8a8a8a" stroke-width="0.45"/>
<line x1="195.6" y1="511.82" x2="197.4" y2="511.82" stroke="#8a8a8a" stroke-width="0.45"/>
<line x1="195.6" y1="501.76" x2="197.4" y2="501.76" stroke="#8a8a8a" stroke-width="0.45"/>
<line x1="195.6" y1="491.7" x2="197.4" y2="491.7" stroke="#8a8a8a" stroke-width="0.45"/>
<line x1="195.6" y1="481.64" x2="197.4" y2="481.64" stroke="#8a8a8a" stroke-width="0.45"/>
<line x1="195.6" y1="471.58" x2="197.4" y2="471.58" stroke="#8a8a8a" stroke-width="0.45"/>
<line x1="195.6" y1="461.52" x2="197.4" y2="461.52" stroke="#8a8a8a" stroke-width="0.45"/>
<line x1="195.6" y1="451.46" x2="197.4" y2="451.46" stroke="#8a8a8a" stroke-width="0.45"/>
<line x1="197.4" y1="542" x2="420" y2="542" stroke="#8a8a8a" stroke-width="0.7"/>
<line x1="198.46" y1="542" x2="198.46" y2="543.2" stroke="#8a8a8a" stroke-width="0.45"/>
<line x1="201.2" y1="542" x2="201.2" y2="544.2" stroke="#8a8a8a" stroke-width="0.45"/>
<line x1="203.94" y1="542" x2="203.94" y2="543.2" stroke="#8a8a8a" stroke-width="0.45"/>
<line x1="206.68" y1="542" x2="206.68" y2="543.2" stroke="#8a8a8a" stroke-width="0.45"/>
<line x1="209.42" y1="542" x2="209.42" y2="543.2" stroke="#8a8a8a" stroke-width="0.45"/>
<line x1="212.16" y1="542" x2="212.16" y2="543.2" stroke="#8a8a8a" stroke-width="0.45"/>
<line x1="214.9" y1="542" x2="214.9" y2="543.2" stroke="#8a8a8a" stroke-width="0.45"/>
<line x1="217.64" y1="542" x2="217.64" y2="543.2" stroke="#8a8a8a" stroke-width="0.45"/>
<line x1="220.38" y1="542" x2="220.38" y2="543.2" stroke="#8a8a8a" stroke-width="0.45"/>
<line x1="223.12" y1="542" x2="223.12" y2="543.2" stroke="#8a8a8a" stroke-width="0.45"/>
<line x1="225.86" y1="542" x2="225.86" y2="543.2" stroke="#8a8a8a" stroke-width="0.45"/>
<line x1="228.6" y1="542" x2="228.6" y2="544.2" stroke="#8a8a8a" stroke-width="0.45"/>
<line x1="231.34" y1="542" x2="231.34" y2="543.2" stroke="#8a8a8a" stroke-width="0.45"/>
<line x1="234.08" y1="542" x2="234.08" y2="543.2" stroke="#8a8a8a" stroke-width="0.45"/>
<line x1="236.82" y1="542" x2="236.82" y2="543.2" stroke="#8a8a8a" stroke-width="0.45"/>
<line x1="239.56" y1="542" x2="239.56" y2="543.2" stroke="#8a8a8a" stroke-width="0.45"/>
<line x1="242.3" y1="542" x2="242.3" y2="543.2" stroke="#8a8a8a" stroke-width="0.45"/>
<line x1="245.04" y1="542" x2="245.04" y2="543.2" stroke="#8a8a8a" stroke-width="0.45"/>
<line x1="247.78" y1="542" x2="247.78" y2="543.2" stroke="#8a8a8a" stroke-width="0.45"/>
<line x1="250.52" y1="542" x2="250.52" y2="543.2" stroke="#8a8a8a" stroke-width="0.45"/>
<line x1="253.26" y1="542" x2="253.26" y2="543.2" stroke="#8a8a8a" stroke-width="0.45"/>
<line x1="256" y1="542" x2="256" y2="544.2" stroke="#8a8a8a" stroke-width="0.45"/>
<line x1="258.74" y1="542" x2="258.74" y2="543.2" stroke="#8a8a8a" stroke-width="0.45"/>
<line x1="261.48" y1="542" x2="261.48" y2="543.2" stroke="#8a8a8a" stroke-width="0.45"/>
<line x1="264.22" y1="542" x2="264.22" y2="543.2" stroke="#8a8a8a" stroke-width="0.45"/>
<line x1="266.96" y1="542" x2="266.96" y2="543.2" stroke="#8a8a8a" stroke-width="0.45"/>
<line x1="269.7" y1="542" x2="269.7" y2="543.2" stroke="#8a8a8a" stroke-width="0.45"/>
<line x1="272.44" y1="542" x2="272.44" y2="543.2" stroke="#8a8a8a" stroke-width="0.45"/>
<line x1="275.18" y1="542" x2="275.18" y2="543.2" stroke="#8a8a8a" stroke-width="0.45"/>
<line x1="277.92" y1="542" x2="277.92" y2="543.2" stroke="#8a8a8a" stroke-width="0.45"/>
<line x1="280.66" y1="542" x2="280.66" y2="543.2" stroke="#8a8a8a" stroke-width="0.45"/>
<line x1="283.4" y1="542" x2="283.4" y2="544.2" stroke="#8a8a8a" stroke-width="0.45"/>
<line x1="286.14" y1="542" x2="286.14" y2="543.2" stroke="#8a8a8a" stroke-width="0.45"/>
<line x1="288.88" y1="542" x2="288.88" y2="543.2" stroke="#8a8a8a" stroke-width="0.45"/>
<line x1="291.62" y1="542" x2="291.62" y2="543.2" stroke="#8a8a8a" stroke-width="0.45"/>
<line x1="294.36" y1="542" x2="294.36" y2="543.2" stroke="#8a8a8a" stroke-width="0.45"/>
<line x1="297.1" y1="542" x2="297.1" y2="543.2" stroke="#8a8a8a" stroke-width="0.45"/>
<line x1="299.84" y1="542" x2="299.84" y2="543.2" stroke="#8a8a8a" stroke-width="0.45"/>
<line x1="302.58" y1="542" x2="302.58" y2="543.2" stroke="#8a8a8a" stroke-width="0.45"/>
<line x1="305.32" y1="542" x2="305.32" y2="543.2" stroke="#8a8a8a" stroke-width="0.45"/>
<line x1="308.06" y1="542" x2="308.06" y2="543.2" stroke="#8a8a8a" stroke-width="0.45"/>
<line x1="310.8" y1="542" x2="310.8" y2="544.2" stroke="#8a8a8a" stroke-width="0.45"/>
<line x1="313.54" y1="542" x2="313.54" y2="543.2" stroke="#8a8a8a" stroke-width="0.45"/>
<line x1="316.28" y1="542" x2="316.28" y2="543.2" stroke="#8a8a8a" stroke-width="0.45"/>
<line x1="319.02" y1="542" x2="319.02" y2="543.2" stroke="#8a8a8a" stroke-width="0.45"/>
<line x1="321.76" y1="542" x2="321.76" y2="543.2" stroke="#8a8a8a" stroke-width="0.45"/>
<line x1="324.5" y1="542" x2="324.5" y2="543.2" stroke="#8a8a8a" stroke-width="0.45"/>
<line x1="327.24" y1="542" x2="327.24" y2="543.2" stroke="#8a8a8a" stroke-width="0.45"/>
<line x1="329.98" y1="542" x2="329.98" y2="543.2" stroke="#8a8a8a" stroke-width="0.45"/>
<line x1="332.72" y1="542" x2="332.72" y2="543.2" stroke="#8a8a8a" stroke-width="0.45"/>
<line x1="335.46" y1="542" x2="335.46" y2="543.2" stroke="#8a8a8a" stroke-width="0.45"/>
<line x1="338.2" y1="542" x2="338.2" y2="544.2" stroke="#8a8a8a" stroke-width="0.45"/>
<line x1="340.94" y1="542" x2="340.94" y2="543.2" stroke="#8a8a8a" stroke-width="0.45"/>
<line x1="343.68" y1="542" x2="343.68" y2="543.2" stroke="#8a8a8a" stroke-width="0.45"/>
<line x1="346.42" y1="542" x2="346.42" y2="543.2" stroke="#8a8a8a" stroke-width="0.45"/>
<line x1="349.16" y1="542" x2="349.16" y2="543.2" stroke="#8a8a8a" stroke-width="0.45"/>
<line x1="351.9" y1="542" x2="351.9" y2="543.2" stroke="#8a8a8a" stroke-width="0.45"/>
<line x1="354.64" y1="542" x2="354.64" y2="543.2" stroke="#8a8a8a" stroke-width="0.45"/>
<line x1="357.38" y1="542" x2="357.38" y2="543.2" stroke="#8a8a8a" stroke-width="0.45"/>
<line x1="360.12" y1="542" x2="360.12" y2="543.2" stroke="#8a8a8a" stroke-width="0.45"/>
<line x1="362.86" y1="542" x2="362.86" y2="543.2" stroke="#8a8a8a" stroke-width="0.45"/>
<line x1="365.6" y1="542" x2="365.6" y2="544.2" stroke="#8a8a8a" stroke-width="0.45"/>
<line x1="368.34" y1="542" x2="368.34" y2="543.2" stroke="#8a8a8a" stroke-width="0.45"/>
<line x1="371.08" y1="542" x2="371.08" y2="543.2" stroke="#8a8a8a" stroke-width="0.45"/>
<line x1="373.82" y1="542" x2="373.82" y2="543.2" stroke="#8a8a8a" stroke-width="0.45"/>
<line x1="376.56" y1="542" x2="376.56" y2="543.2" stroke="#8a8a8a" stroke-width="0.45"/>
<line x1="379.3" y1="542" x2="379.3" y2="543.2" stroke="#8a8a8a" stroke-width="0.45"/>
<line x1="382.04" y1="542" x2="382.04" y2="543.2" stroke="#8a8a8a" stroke-width="0.45"/>
<line x1="384.78" y1="542" x2="384.78" y2="543.2" stroke="#8a8a8a" stroke-width="0.45"/>
<line x1="387.52" y1="542" x2="387.52" y2="543.2" stroke="#8a8a8a" stroke-width="0.45"/>
<line x1="390.26" y1="542" x2="390.26" y2="543.2" stroke="#8a8a8a" stroke-width="0.45"/>
<line x1="393" y1="542" x2="393" y2="544.2" stroke="#8a8a8a" stroke-width="0.45"/>
<line x1="395.74" y1="542" x2="395.74" y2="543.2" stroke="#8a8a8a" stroke-width="0.45"/>
<line x1="398.48" y1="542" x2="398.48" y2="543.2" stroke="#8a8a8a" stroke-width="0.45"/>
<line x1="401.22" y1="542" x2="401.22" y2="543.2" stroke="#8a8a8a" stroke-width="0.45"/>
<line x1="403.96" y1="542" x2="403.96" y2="543.2" stroke="#8a8a8a" stroke-width="0.45"/>
<line x1="406.7" y1="542" x2="406.7" y2="543.2" stroke="#8a8a8a" stroke-width="0.45"/>
<line x1="409.44" y1="542" x2="409.44" y2="543.2" stroke="#8a8a8a" stroke-width="0.45"/>
<line x1="412.18" y1="542" x2="412.18" y2="543.2" stroke="#8a8a8a" stroke-width="0.45"/>
<line x1="414.92" y1="542" x2="414.92" y2="543.2" stroke="#8a8a8a" stroke-width="0.45"/>
<line x1="417.66" y1="542" x2="417.66" y2="543.2" stroke="#8a8a8a" stroke-width="0.45"/>
<line x1="420.4" y1="542" x2="420.4" y2="544.2" stroke="#8a8a8a" stroke-width="0.45"/>
<text transform="translate(200.3 549.5) scale(0.9 1)" font-size="5.67" text-anchor="middle" fill="#222" stroke="#222" stroke-width="0.14">-0.00</text>
<text transform="translate(228.6 549.5) scale(0.9 1)" font-size="5.67" text-anchor="middle" fill="#222" stroke="#222" stroke-width="0.14">0.50</text>
<text transform="translate(256 549.5) scale(0.9 1)" font-size="5.67" text-anchor="middle" fill="#222" stroke="#222" stroke-width="0.14">1.00</text>
<text transform="translate(283.4 549.5) scale(0.9 1)" font-size="5.67" text-anchor="middle" fill="#222" stroke="#222" stroke-width="0.14">1.50</text>
<text transform="translate(310.8 549.5) scale(0.9 1)" font-size="5.67" text-anchor="middle" fill="#222" stroke="#222" stroke-width="0.14">2.00</text>
<text transform="translate(338.2 549.5) scale(0.9 1)" font-size="5.67" text-anchor="middle" fill="#222" stroke="#222" stroke-width="0.14">2.50</text>
<text transform="translate(365.6 549.5) scale(0.9 1)" font-size="5.67" text-anchor="middle" fill="#222" stroke="#222" stroke-width="0.14">3.00</text>
<text transform="translate(393 549.5) scale(0.9 1)" font-size="5.67" text-anchor="middle" fill="#222" stroke="#222" stroke-width="0.14">3.50</text>
<text transform="translate(420.4 549.5) scale(0.9 1)" font-size="5.67" text-anchor="middle" fill="#222" stroke="#222" stroke-width="0.14">4.00</text>
<text transform="translate(422.3 543.8) scale(0.9 1)" font-size="5.89" text-anchor="start" fill="#222" stroke="#222" stroke-width="0.14">Time</text>
<text transform="translate(434.2 435.4) scale(0.9 1)" font-size="5.67" text-anchor="end" fill="#e03a3a" stroke="#e03a3a" stroke-width="0.14">1: MS2 ES+</text>
<text transform="translate(435.1 441) scale(0.9 1)" font-size="5.67" text-anchor="end" fill="#e03a3a" stroke="#e03a3a" stroke-width="0.14">TIC</text>
<text transform="translate(435.1 446.7) scale(0.9 1)" font-size="5.67" text-anchor="end" fill="#e03a3a" stroke="#e03a3a" stroke-width="0.14">6.55e9</text>
<text x="0" y="0" font-size="5.1" text-anchor="middle" fill="#222" transform="translate(195.4,491.3) rotate(-90)">%</text>
<polyline points="197.6,539.15 197.95,538.93 198.3,539.12 198.65,539.32 199,539.37 199.35,539.45 199.7,539.55 200.05,539.36 200.4,538.82 200.75,539.54 201.1,538.99 201.45,539.27 201.8,539.07 202.15,539.44 202.5,538.9 202.85,538.95 203.2,538.95 203.55,538.85 203.9,539.58 204.25,539.28 204.6,539.03 204.95,539.1 205.3,539.69 205.65,539.21 206,538.93 206.35,539.51 206.7,539.35 207.05,539.69 207.4,538.8 207.75,539.17 208.1,539.52 208.45,539.54 208.8,539.61 209.15,538.74 209.5,538.99 209.85,538.82 210.2,538.89 210.55,539.67 210.9,539.28 211.25,539.63 211.6,538.64 211.95,537.62 212.3,535.68 212.65,533.98 213,522.58 213.35,509.1 213.7,494.61 214.05,486.35 214.4,477.62 214.75,468.47 215.1,459.87 215.45,453.85 215.8,449.3 216.15,444.75 216.5,442.48 216.85,444.92 217.2,446.86 217.55,449.24 217.9,453.24 218.25,457.28 218.6,460.47 218.95,464.29 219.3,470.1 219.65,477 220,483.05 220.35,488.86 220.7,494 221.05,498.5 221.4,502.85 221.75,507.14 222.1,510.27 222.45,512.73 222.8,515.65 223.15,517.75 223.5,520.01 223.85,522.42 224.2,525.45 224.55,525.83 224.9,527.11 225.25,527.92 225.6,528.99 225.95,530.46 226.3,531.61 226.65,531.64 227,531.65 227.35,532.36 227.7,532.02 228.05,532 228.4,533.07 228.75,532.77 229.1,533.35 229.45,533.11 229.8,533.77 230.15,533.53 230.5,533.41 230.85,533.44 231.2,534.18 231.55,534.51 231.9,535.01 232.25,534.42 232.6,535.19 232.95,535.17 233.3,535.54 233.65,535.41 234,535.78 234.35,536.25 234.7,536.89 235.05,536.31 235.4,536.92 235.75,537.37 236.1,537.61 236.45,536.93 236.8,536.94 237.15,537.85 237.5,537.96 237.85,537.56 238.2,537.21 238.55,538.17 238.9,537.72 239.25,538.32 239.6,538.12 239.95,538.41 240.3,537.73 240.65,538.33 241,537.73 241.35,537.88 241.7,538.3 242.05,538.25 242.4,537.57 242.75,537.57 243.1,537.72 243.45,537.81 243.8,537.65 244.15,537.35 244.5,537.45 244.85,537.72 245.2,537.68 245.55,536.62 245.9,536.93 246.25,536.92 246.6,535.99 246.95,536.58 247.3,535.65 247.65,535.93 248,535.67 248.35,534.58 248.7,531.81 249.05,529.47 249.4,527.18 249.75,524.5 250.1,521.75 250.45,518.55 250.8,515.55 251.15,512.15 251.5,511.88 251.85,511.24 252.2,510.47 252.55,510.48 252.9,511.08 253.25,512.16 253.6,513.28 253.95,514.97 254.3,516.31 254.65,518.78 255,521.53 255.35,523.64 255.7,526.44 256.05,527.42 256.4,527.86 256.75,529.37 257.1,529.72 257.45,531.28 257.8,531.43 258.15,529.25 258.5,526.88 258.85,525.42 259.2,523.38 259.55,522.34 259.9,519.91 260.25,519.02 260.6,517.54 260.95,515.66 261.3,516.15 261.65,516.27 262,517.79 262.35,518.04 262.7,519.25 263.05,520.31 263.4,520.82 263.75,522.7 264.1,524.1 264.45,524.49 264.8,526.04 265.15,527.7 265.5,528.36 265.85,529.71 266.2,529.71 266.85,530.74 267.43,532.53 267.93,532.76 268.51,533.82 268.97,533.86 269.46,534.8 270.08,535.31 270.57,535.29 271.05,535.02 271.66,534.94 272.33,535.54 272.92,536.36 273.4,536.6 274,535.55 274.65,535.35 275.35,535.94 275.89,536.3 276.45,535.27 277.09,535.06 277.74,535.46 278.35,536.8 278.95,536.25 279.48,535.08 279.94,535.37 280.54,535.84 281.12,536.64 281.6,535.41 282.21,535 282.66,535.57 283.14,535.54 283.65,535.91 284.24,535.19 284.85,535.64 285.33,536.44 285.85,534.99 286.32,535.84 286.99,536.05 287.54,535.09 287.99,535.74 288.58,535.17 289.19,535.3 289.88,535.78 290.39,536.05 290.85,535.35 291.4,534.79 291.87,535.73 292.32,535.29 293,534.51 293.5,535.32 294.08,535.34 294.73,534.46 295.26,534.65 295.72,535.68 296.37,535.32 296.82,535.53 297.46,534.8 298.09,534.74 298.6,534.08 299.11,533.93 299.64,535.17 300.27,535.32 300.89,534.26 301.48,534.56 302.13,534.7 302.64,534.9 303.34,534.12 304.01,533.75 304.52,534.13 305.16,535.4 305.79,534.27 306.46,534.26 306.97,535.29 307.58,534.9 308.2,535.4 308.76,535.14 309.39,535.16 309.95,534.91 310.54,534.14 311.04,534.7 311.51,535.21 312,533.61 312.48,535.22 313.01,533.8 313.47,533.61 314.09,534.66 314.72,534.83 315.18,534.56 315.72,534.96 316.38,535.08 316.85,535.03 317.52,535.15 318,533.81 318.48,533.49 319.14,534.88 319.75,534.89 320.36,533.89 320.83,533.52 321.47,533.67 322,534.03 322.46,533.7 322.98,534.49 323.52,533.75 324.21,534.03 324.87,534.2 325.33,533.8 325.89,534.41 326.43,534.25 327.01,533.33 327.68,533.06 328.33,533.17 328.78,533.19 329.42,534.55 329.87,533.64 330.45,534.16 330.94,533.58 331.48,534.15 331.99,534.32 332.52,532.97 333.14,533.44 333.62,533.66 334.09,533.9 334.71,533.86 335.32,533.04 335.87,533.08 336.54,532.48 337.21,532.33 337.72,532.72 338.39,533.11 338.94,533.76 339.44,532.97 340.03,533.45 340.67,533.18 341.2,532.53 341.69,533.4 342.31,533.14 342.8,532.53 343.44,532.69 343.92,532.42 344.6,531.93 345.09,531.98 345.72,532.88 346.21,531.57 346.72,531.81 347.3,531.44 347.83,531.42 348.53,532.3 349,532.66 349.48,531.56 350.17,532.18 350.81,531.34 351.31,531.56 351.78,530.64 352.33,530.16 352.88,531.36 353.5,530.65 354.11,530.4 354.6,530.51 355.15,530.49 355.82,529.25 356.42,529.23 356.97,527.74 357.6,528.28 358.25,527.44 358.91,527.08 359.52,526.37 360.05,526.43 360.52,525.82 361.17,526.03 361.78,524.9 362.33,525 362.94,523.67 363.56,522.96 364.05,521.07 364.7,518.01 365.27,516.78 365.73,514.16 366.22,512.68 366.9,511.3 367.38,510.76 367.96,511.33 368.54,510.94 368.59,511.22 368.89,510 369.19,511.72 369.2,510.34 369.75,512.57 370.26,511.21 370.8,511.62 371.28,512.78 371.82,507.97 372.34,509.76 372.79,509.87 373.35,511.33 373.89,509.09 374.39,511.58 375.08,510.48 375.58,511.91 376.13,508.86 376.61,511.8 377.27,511.07 377.36,511.38 377.66,508 377.83,510.71 377.96,511.88 378.34,512.81 378.88,511.13 379.53,512.06 380.1,509.36 380.69,508.49 381.35,509.69 382.01,509.25 382.55,509.19 383.11,508.85 383.38,511.49 383.56,511.64 383.68,509.2 383.98,511.99 384.08,509.17 384.61,510.4 385.16,511.23 385.78,509.82 386.46,512.39 386.92,512.26 387.6,512.04 388.09,512.3 388.69,508.06 389.15,512.94 389.76,509.3 390.24,508.75 390.74,512.06 391.28,508.83 391.96,512.16 392.45,512.69 393.05,512.13 393.25,511.67 393.55,509.2 393.67,512.72 393.85,512.17 394.32,512.45 394.81,511.7 395.4,514.04 395.96,517.71 396.55,514.1 397.05,510.99 397.63,508.4 398.19,508.85 398.77,510.69 399.35,512.59 399.8,512.47 400.37,511.03 400.99,512.47 401.53,510.28 402.22,508.49 402.83,511.41 403.29,511.27 403.91,512.94 404.44,513.2 405.02,510.62 405.69,508.28 406.32,511.35 406.86,512.58 407.4,510.57 407.98,512.11 408.48,510.36 409.04,510.98 409.69,509.62 410.24,511.7 410.35,510.2 410.54,509.2 410.84,512.2 410.93,509.51 411.5,513.17 412.12,512.22 412.65,509.75 413.18,510.86 413.52,518.13 413.78,517.22 413.82,510.5 414.12,518.63 414.24,521.43 414.92,521.53 415.38,520.2 415.83,518.87" fill="none" stroke="#dc3c3c" stroke-width="0.6" stroke-linejoin="round" stroke-opacity="0.85"/>
<text transform="translate(216.7 440.1) scale(0.9 1)" font-size="5.67" text-anchor="middle" fill="#222" stroke="#222" stroke-width="0.14">0.28</text>
<text transform="translate(252.4 509.1) scale(0.9 1)" font-size="5.67" text-anchor="middle" fill="#222" stroke="#222" stroke-width="0.14">0.94</text>
<text transform="translate(265.8 511.3) scale(0.9 1)" font-size="5.67" text-anchor="middle" fill="#222" stroke="#222" stroke-width="0.14">1.10</text>
<line x1="262.6" y1="511.4" x2="261.48" y2="514.7" stroke="#666" stroke-width="0.32"/>
<text transform="translate(361 508.3) scale(0.9 1)" font-size="5.67" text-anchor="middle" fill="#222" stroke="#222" stroke-width="0.14">3.06</text>
<line x1="364.2" y1="508.4" x2="368.89" y2="509.7" stroke="#666" stroke-width="0.32"/>
<text transform="translate(372.7 504.6) scale(0.9 1)" font-size="5.67" text-anchor="middle" fill="#222" stroke="#222" stroke-width="0.14">3.22</text>
<line x1="375.9" y1="504.7" x2="377.66" y2="507.7" stroke="#666" stroke-width="0.32"/>
<text transform="translate(383.5 507.6) scale(0.9 1)" font-size="5.67" text-anchor="middle" fill="#222" stroke="#222" stroke-width="0.14">3.33</text>
<text transform="translate(393.2 507.6) scale(0.9 1)" font-size="5.67" text-anchor="middle" fill="#222" stroke="#222" stroke-width="0.14">3.51</text>
<text transform="translate(410.2 507.6) scale(0.9 1)" font-size="5.67" text-anchor="middle" fill="#222" stroke="#222" stroke-width="0.14">3.82</text>
<text transform="translate(420.2 509.8) scale(0.9 1)" font-size="5.67" text-anchor="middle" fill="#222" stroke="#222" stroke-width="0.14">3.88</text>
<line x1="417" y1="509.9" x2="413.82" y2="510.2" stroke="#666" stroke-width="0.32"/>
<line x1="112.4" y1="648" x2="112.4" y2="773.5" stroke="#8a8a8a" stroke-width="0.7"/>
<line x1="112.4" y1="773.5" x2="486.3" y2="773.5" stroke="#8a8a8a" stroke-width="0.7"/>
<line x1="110.6" y1="773.5" x2="112.4" y2="773.5" stroke="#8a8a8a" stroke-width="0.45"/>
<line x1="110.6" y1="760.95" x2="112.4" y2="760.95" stroke="#8a8a8a" stroke-width="0.45"/>
<line x1="110.6" y1="748.4" x2="112.4" y2="748.4" stroke="#8a8a8a" stroke-width="0.45"/>
<line x1="110.6" y1="735.85" x2="112.4" y2="735.85" stroke="#8a8a8a" stroke-width="0.45"/>
<line x1="110.6" y1="723.3" x2="112.4" y2="723.3" stroke="#8a8a8a" stroke-width="0.45"/>
<line x1="110.6" y1="710.75" x2="112.4" y2="710.75" stroke="#8a8a8a" stroke-width="0.45"/>
<line x1="110.6" y1="698.2" x2="112.4" y2="698.2" stroke="#8a8a8a" stroke-width="0.45"/>
<line x1="110.6" y1="685.65" x2="112.4" y2="685.65" stroke="#8a8a8a" stroke-width="0.45"/>
<line x1="110.6" y1="673.1" x2="112.4" y2="673.1" stroke="#8a8a8a" stroke-width="0.45"/>
<line x1="110.6" y1="660.55" x2="112.4" y2="660.55" stroke="#8a8a8a" stroke-width="0.45"/>
<line x1="110.6" y1="648" x2="112.4" y2="648" stroke="#8a8a8a" stroke-width="0.45"/>
<text transform="translate(110.4 650.4) scale(0.9 1)" font-size="5.67" text-anchor="end" fill="#222" stroke="#222" stroke-width="0.14">100</text>
<text transform="translate(110.4 775.9) scale(0.9 1)" font-size="5.67" text-anchor="end" fill="#222" stroke="#222" stroke-width="0.14">0</text>
<line x1="113.14" y1="773.5" x2="113.14" y2="775.7" stroke="#8a8a8a" stroke-width="0.45"/>
<line x1="117.07" y1="773.5" x2="117.07" y2="774.7" stroke="#8a8a8a" stroke-width="0.45"/>
<line x1="121" y1="773.5" x2="121" y2="774.7" stroke="#8a8a8a" stroke-width="0.45"/>
<line x1="124.93" y1="773.5" x2="124.93" y2="774.7" stroke="#8a8a8a" stroke-width="0.45"/>
<line x1="128.87" y1="773.5" x2="128.87" y2="774.7" stroke="#8a8a8a" stroke-width="0.45"/>
<line x1="132.8" y1="773.5" x2="132.8" y2="775.7" stroke="#8a8a8a" stroke-width="0.45"/>
<line x1="136.73" y1="773.5" x2="136.73" y2="774.7" stroke="#8a8a8a" stroke-width="0.45"/>
<line x1="140.67" y1="773.5" x2="140.67" y2="774.7" stroke="#8a8a8a" stroke-width="0.45"/>
<line x1="144.6" y1="773.5" x2="144.6" y2="774.7" stroke="#8a8a8a" stroke-width="0.45"/>
<line x1="148.53" y1="773.5" x2="148.53" y2="774.7" stroke="#8a8a8a" stroke-width="0.45"/>
<line x1="152.47" y1="773.5" x2="152.47" y2="775.7" stroke="#8a8a8a" stroke-width="0.45"/>
<line x1="156.4" y1="773.5" x2="156.4" y2="774.7" stroke="#8a8a8a" stroke-width="0.45"/>
<line x1="160.33" y1="773.5" x2="160.33" y2="774.7" stroke="#8a8a8a" stroke-width="0.45"/>
<line x1="164.26" y1="773.5" x2="164.26" y2="774.7" stroke="#8a8a8a" stroke-width="0.45"/>
<line x1="168.2" y1="773.5" x2="168.2" y2="774.7" stroke="#8a8a8a" stroke-width="0.45"/>
<line x1="172.13" y1="773.5" x2="172.13" y2="775.7" stroke="#8a8a8a" stroke-width="0.45"/>
<line x1="176.06" y1="773.5" x2="176.06" y2="774.7" stroke="#8a8a8a" stroke-width="0.45"/>
<line x1="180" y1="773.5" x2="180" y2="774.7" stroke="#8a8a8a" stroke-width="0.45"/>
<line x1="183.93" y1="773.5" x2="183.93" y2="774.7" stroke="#8a8a8a" stroke-width="0.45"/>
<line x1="187.86" y1="773.5" x2="187.86" y2="774.7" stroke="#8a8a8a" stroke-width="0.45"/>
<line x1="191.8" y1="773.5" x2="191.8" y2="775.7" stroke="#8a8a8a" stroke-width="0.45"/>
<line x1="195.73" y1="773.5" x2="195.73" y2="774.7" stroke="#8a8a8a" stroke-width="0.45"/>
<line x1="199.66" y1="773.5" x2="199.66" y2="774.7" stroke="#8a8a8a" stroke-width="0.45"/>
<line x1="203.59" y1="773.5" x2="203.59" y2="774.7" stroke="#8a8a8a" stroke-width="0.45"/>
<line x1="207.53" y1="773.5" x2="207.53" y2="774.7" stroke="#8a8a8a" stroke-width="0.45"/>
<line x1="211.46" y1="773.5" x2="211.46" y2="775.7" stroke="#8a8a8a" stroke-width="0.45"/>
<line x1="215.39" y1="773.5" x2="215.39" y2="774.7" stroke="#8a8a8a" stroke-width="0.45"/>
<line x1="219.33" y1="773.5" x2="219.33" y2="774.7" stroke="#8a8a8a" stroke-width="0.45"/>
<line x1="223.26" y1="773.5" x2="223.26" y2="774.7" stroke="#8a8a8a" stroke-width="0.45"/>
<line x1="227.19" y1="773.5" x2="227.19" y2="774.7" stroke="#8a8a8a" stroke-width="0.45"/>
<line x1="231.12" y1="773.5" x2="231.12" y2="775.7" stroke="#8a8a8a" stroke-width="0.45"/>
<line x1="235.06" y1="773.5" x2="235.06" y2="774.7" stroke="#8a8a8a" stroke-width="0.45"/>
<line x1="238.99" y1="773.5" x2="238.99" y2="774.7" stroke="#8a8a8a" stroke-width="0.45"/>
<line x1="242.92" y1="773.5" x2="242.92" y2="774.7" stroke="#8a8a8a" stroke-width="0.45"/>
<line x1="246.86" y1="773.5" x2="246.86" y2="774.7" stroke="#8a8a8a" stroke-width="0.45"/>
<line x1="250.79" y1="773.5" x2="250.79" y2="775.7" stroke="#8a8a8a" stroke-width="0.45"/>
<line x1="254.72" y1="773.5" x2="254.72" y2="774.7" stroke="#8a8a8a" stroke-width="0.45"/>
<line x1="258.66" y1="773.5" x2="258.66" y2="774.7" stroke="#8a8a8a" stroke-width="0.45"/>
<line x1="262.59" y1="773.5" x2="262.59" y2="774.7" stroke="#8a8a8a" stroke-width="0.45"/>
<line x1="266.52" y1="773.5" x2="266.52" y2="774.7" stroke="#8a8a8a" stroke-width="0.45"/>
<line x1="270.46" y1="773.5" x2="270.46" y2="775.7" stroke="#8a8a8a" stroke-width="0.45"/>
<line x1="274.39" y1="773.5" x2="274.39" y2="774.7" stroke="#8a8a8a" stroke-width="0.45"/>
<line x1="278.32" y1="773.5" x2="278.32" y2="774.7" stroke="#8a8a8a" stroke-width="0.45"/>
<line x1="282.25" y1="773.5" x2="282.25" y2="774.7" stroke="#8a8a8a" stroke-width="0.45"/>
<line x1="286.19" y1="773.5" x2="286.19" y2="774.7" stroke="#8a8a8a" stroke-width="0.45"/>
<line x1="290.12" y1="773.5" x2="290.12" y2="775.7" stroke="#8a8a8a" stroke-width="0.45"/>
<line x1="294.05" y1="773.5" x2="294.05" y2="774.7" stroke="#8a8a8a" stroke-width="0.45"/>
<line x1="297.99" y1="773.5" x2="297.99" y2="774.7" stroke="#8a8a8a" stroke-width="0.45"/>
<line x1="301.92" y1="773.5" x2="301.92" y2="774.7" stroke="#8a8a8a" stroke-width="0.45"/>
<line x1="305.85" y1="773.5" x2="305.85" y2="774.7" stroke="#8a8a8a" stroke-width="0.45"/>
<line x1="309.78" y1="773.5" x2="309.78" y2="775.7" stroke="#8a8a8a" stroke-width="0.45"/>
<line x1="313.72" y1="773.5" x2="313.72" y2="774.7" stroke="#8a8a8a" stroke-width="0.45"/>
<line x1="317.65" y1="773.5" x2="317.65" y2="774.7" stroke="#8a8a8a" stroke-width="0.45"/>
<line x1="321.58" y1="773.5" x2="321.58" y2="774.7" stroke="#8a8a8a" stroke-width="0.45"/>
<line x1="325.52" y1="773.5" x2="325.52" y2="774.7" stroke="#8a8a8a" stroke-width="0.45"/>
<line x1="329.45" y1="773.5" x2="329.45" y2="775.7" stroke="#8a8a8a" stroke-width="0.45"/>
<line x1="333.38" y1="773.5" x2="333.38" y2="774.7" stroke="#8a8a8a" stroke-width="0.45"/>
<line x1="337.32" y1="773.5" x2="337.32" y2="774.7" stroke="#8a8a8a" stroke-width="0.45"/>
<line x1="341.25" y1="773.5" x2="341.25" y2="774.7" stroke="#8a8a8a" stroke-width="0.45"/>
<line x1="345.18" y1="773.5" x2="345.18" y2="774.7" stroke="#8a8a8a" stroke-width="0.45"/>
<line x1="349.12" y1="773.5" x2="349.12" y2="775.7" stroke="#8a8a8a" stroke-width="0.45"/>
<line x1="353.05" y1="773.5" x2="353.05" y2="774.7" stroke="#8a8a8a" stroke-width="0.45"/>
<line x1="356.98" y1="773.5" x2="356.98" y2="774.7" stroke="#8a8a8a" stroke-width="0.45"/>
<line x1="360.91" y1="773.5" x2="360.91" y2="774.7" stroke="#8a8a8a" stroke-width="0.45"/>
<line x1="364.85" y1="773.5" x2="364.85" y2="774.7" stroke="#8a8a8a" stroke-width="0.45"/>
<line x1="368.78" y1="773.5" x2="368.78" y2="775.7" stroke="#8a8a8a" stroke-width="0.45"/>
<line x1="372.71" y1="773.5" x2="372.71" y2="774.7" stroke="#8a8a8a" stroke-width="0.45"/>
<line x1="376.65" y1="773.5" x2="376.65" y2="774.7" stroke="#8a8a8a" stroke-width="0.45"/>
<line x1="380.58" y1="773.5" x2="380.58" y2="774.7" stroke="#8a8a8a" stroke-width="0.45"/>
<line x1="384.51" y1="773.5" x2="384.51" y2="774.7" stroke="#8a8a8a" stroke-width="0.45"/>
<line x1="388.44" y1="773.5" x2="388.44" y2="775.7" stroke="#8a8a8a" stroke-width="0.45"/>
<line x1="392.38" y1="773.5" x2="392.38" y2="774.7" stroke="#8a8a8a" stroke-width="0.45"/>
<line x1="396.31" y1="773.5" x2="396.31" y2="774.7" stroke="#8a8a8a" stroke-width="0.45"/>
<line x1="400.24" y1="773.5" x2="400.24" y2="774.7" stroke="#8a8a8a" stroke-width="0.45"/>
<line x1="404.18" y1="773.5" x2="404.18" y2="774.7" stroke="#8a8a8a" stroke-width="0.45"/>
<line x1="408.11" y1="773.5" x2="408.11" y2="775.7" stroke="#8a8a8a" stroke-width="0.45"/>
<line x1="412.04" y1="773.5" x2="412.04" y2="774.7" stroke="#8a8a8a" stroke-width="0.45"/>
<line x1="415.98" y1="773.5" x2="415.98" y2="774.7" stroke="#8a8a8a" stroke-width="0.45"/>
<line x1="419.91" y1="773.5" x2="419.91" y2="774.7" stroke="#8a8a8a" stroke-width="0.45"/>
<line x1="423.84" y1="773.5" x2="423.84" y2="774.7" stroke="#8a8a8a" stroke-width="0.45"/>
<line x1="427.77" y1="773.5" x2="427.77" y2="775.7" stroke="#8a8a8a" stroke-width="0.45"/>
<line x1="431.71" y1="773.5" x2="431.71" y2="774.7" stroke="#8a8a8a" stroke-width="0.45"/>
<line x1="435.64" y1="773.5" x2="435.64" y2="774.7" stroke="#8a8a8a" stroke-width="0.45"/>
<line x1="439.57" y1="773.5" x2="439.57" y2="774.7" stroke="#8a8a8a" stroke-width="0.45"/>
<line x1="443.51" y1="773.5" x2="443.51" y2="774.7" stroke="#8a8a8a" stroke-width="0.45"/>
<line x1="447.44" y1="773.5" x2="447.44" y2="775.7" stroke="#8a8a8a" stroke-width="0.45"/>
<line x1="451.37" y1="773.5" x2="451.37" y2="774.7" stroke="#8a8a8a" stroke-width="0.45"/>
<line x1="455.31" y1="773.5" x2="455.31" y2="774.7" stroke="#8a8a8a" stroke-width="0.45"/>
<line x1="459.24" y1="773.5" x2="459.24" y2="774.7" stroke="#8a8a8a" stroke-width="0.45"/>
<line x1="463.17" y1="773.5" x2="463.17" y2="774.7" stroke="#8a8a8a" stroke-width="0.45"/>
<line x1="467.11" y1="773.5" x2="467.11" y2="775.7" stroke="#8a8a8a" stroke-width="0.45"/>
<line x1="471.04" y1="773.5" x2="471.04" y2="774.7" stroke="#8a8a8a" stroke-width="0.45"/>
<line x1="474.97" y1="773.5" x2="474.97" y2="774.7" stroke="#8a8a8a" stroke-width="0.45"/>
<line x1="478.9" y1="773.5" x2="478.9" y2="774.7" stroke="#8a8a8a" stroke-width="0.45"/>
<line x1="482.84" y1="773.5" x2="482.84" y2="774.7" stroke="#8a8a8a" stroke-width="0.45"/>
<text transform="translate(132.8 782) scale(0.9 1)" font-size="5.67" text-anchor="middle" fill="#222" stroke="#222" stroke-width="0.14">200</text>
<text transform="translate(172.13 782) scale(0.9 1)" font-size="5.67" text-anchor="middle" fill="#222" stroke="#222" stroke-width="0.14">400</text>
<text transform="translate(211.46 782) scale(0.9 1)" font-size="5.67" text-anchor="middle" fill="#222" stroke="#222" stroke-width="0.14">600</text>
<text transform="translate(250.79 782) scale(0.9 1)" font-size="5.67" text-anchor="middle" fill="#222" stroke="#222" stroke-width="0.14">800</text>
<text transform="translate(290.12 782) scale(0.9 1)" font-size="5.67" text-anchor="middle" fill="#222" stroke="#222" stroke-width="0.14">1000</text>
<text transform="translate(329.45 782) scale(0.9 1)" font-size="5.67" text-anchor="middle" fill="#222" stroke="#222" stroke-width="0.14">1200</text>
<text transform="translate(368.78 782) scale(0.9 1)" font-size="5.67" text-anchor="middle" fill="#222" stroke="#222" stroke-width="0.14">1400</text>
<text transform="translate(408.11 782) scale(0.9 1)" font-size="5.67" text-anchor="middle" fill="#222" stroke="#222" stroke-width="0.14">1600</text>
<text transform="translate(447.44 782) scale(0.9 1)" font-size="5.67" text-anchor="middle" fill="#222" stroke="#222" stroke-width="0.14">1800</text>
<text transform="translate(488.8 776.2) scale(0.9 1)" font-size="6.22" text-anchor="start" fill="#222" stroke="#222" stroke-width="0.14">m/z</text>
<line x1="112.4" y1="773.3" x2="486.3" y2="773.3" stroke="#2e962e" stroke-width="0.5" stroke-opacity="0.55"/>
<text transform="translate(99.2 641.6) scale(0.9 1)" font-size="6.39" text-anchor="start" fill="#3a9a3a" stroke="#3a9a3a" stroke-width="0.14">2 136 (0.952) Cm (136:148)</text>
<text transform="translate(498.4 640.8) scale(0.9 1)" font-size="5.67" text-anchor="end" fill="#3a9a3a" stroke="#3a9a3a" stroke-width="0.14">2: MS2 ES-</text>
<text transform="translate(498.4 647.2) scale(0.9 1)" font-size="5.67" text-anchor="end" fill="#3a9a3a" stroke="#3a9a3a" stroke-width="0.14">2.69e5</text>
<rect x="99.4" y="709.2" width="3.2" height="3.2" fill="#0b870b"/>
<text x="0" y="0" font-size="5.1" text-anchor="middle" fill="#222" transform="translate(110.2,710.6) rotate(-90)">%</text>
<line x1="114.3" y1="773.5" x2="114.3" y2="757.2" stroke="#2e962e" stroke-width="0.6" stroke-opacity="1"/>
<line x1="115.3" y1="773.5" x2="115.3" y2="753.7" stroke="#2e962e" stroke-width="0.6" stroke-opacity="0.5"/>
<line x1="116.1" y1="773.5" x2="116.1" y2="766" stroke="#2e962e" stroke-width="0.6" stroke-opacity="0.6"/>
<line x1="118.8" y1="773.5" x2="118.8" y2="766.5" stroke="#2e962e" stroke-width="0.6" stroke-opacity="0.6"/>
<line x1="119.6" y1="773.5" x2="119.6" y2="764.2" stroke="#2e962e" stroke-width="0.6" stroke-opacity="0.7"/>
<line x1="120.2" y1="773.5" x2="120.2" y2="759" stroke="#2e962e" stroke-width="0.6" stroke-opacity="0.45"/>
<line x1="121.9" y1="773.5" x2="121.9" y2="768.8" stroke="#2e962e" stroke-width="0.6" stroke-opacity="0.6"/>
<line x1="124.3" y1="773.5" x2="124.3" y2="761.8" stroke="#2e962e" stroke-width="0.6" stroke-opacity="1"/>
<line x1="129.3" y1="773.5" x2="129.3" y2="759" stroke="#2e962e" stroke-width="0.6" stroke-opacity="0.6"/>
<line x1="132.7" y1="773.5" x2="132.7" y2="762.4" stroke="#2e962e" stroke-width="0.6" stroke-opacity="1"/>
<line x1="133.4" y1="773.5" x2="133.4" y2="746.7" stroke="#2e962e" stroke-width="0.6" stroke-opacity="0.7"/>
<line x1="137.4" y1="773.5" x2="137.4" y2="760.7" stroke="#2e962e" stroke-width="0.6" stroke-opacity="0.6"/>
<line x1="138.8" y1="773.5" x2="138.8" y2="764.2" stroke="#2e962e" stroke-width="0.6" stroke-opacity="0.5"/>
<line x1="140" y1="773.5" x2="140" y2="764.8" stroke="#2e962e" stroke-width="0.6" stroke-opacity="0.5"/>
<line x1="140.9" y1="773.5" x2="140.9" y2="754.8" stroke="#2e962e" stroke-width="0.6" stroke-opacity="0.5"/>
<line x1="142.1" y1="773.5" x2="142.1" y2="767" stroke="#2e962e" stroke-width="0.6" stroke-opacity="0.5"/>
<line x1="144.4" y1="773.5" x2="144.4" y2="756.6" stroke="#2e962e" stroke-width="0.6" stroke-opacity="0.6"/>
<line x1="145.5" y1="773.5" x2="145.5" y2="751.9" stroke="#2e962e" stroke-width="0.6" stroke-opacity="1"/>
<line x1="148.8" y1="773.5" x2="148.8" y2="766" stroke="#2e962e" stroke-width="0.6" stroke-opacity="0.5"/>
<line x1="150.3" y1="773.5" x2="150.3" y2="763.6" stroke="#2e962e" stroke-width="0.6" stroke-opacity="0.6"/>
<line x1="152.6" y1="773.5" x2="152.6" y2="753.7" stroke="#2e962e" stroke-width="0.6" stroke-opacity="0.6"/>
<line x1="153.4" y1="773.5" x2="153.4" y2="753.7" stroke="#2e962e" stroke-width="0.6" stroke-opacity="0.5"/>
<line x1="159.5" y1="773.5" x2="159.5" y2="754.3" stroke="#2e962e" stroke-width="0.6" stroke-opacity="1"/>
<line x1="166.3" y1="773.5" x2="166.3" y2="768.7" stroke="#2e962e" stroke-width="0.6" stroke-opacity="0.7"/>
<line x1="169.3" y1="773.5" x2="169.3" y2="770.4" stroke="#2e962e" stroke-width="0.6" stroke-opacity="0.6"/>
<line x1="174.4" y1="773.5" x2="174.4" y2="768.7" stroke="#2e962e" stroke-width="0.6" stroke-opacity="0.7"/>
<line x1="180" y1="773.5" x2="180" y2="760.7" stroke="#2e962e" stroke-width="0.6" stroke-opacity="1"/>
<line x1="184" y1="773.5" x2="184" y2="769.3" stroke="#2e962e" stroke-width="0.6" stroke-opacity="0.7"/>
<line x1="185" y1="773.5" x2="185" y2="772" stroke="#2e962e" stroke-width="0.6" stroke-opacity="0.5"/>
<line x1="196.7" y1="773.5" x2="196.7" y2="766" stroke="#2e962e" stroke-width="0.6" stroke-opacity="0.6"/>
<line x1="201.6" y1="773.5" x2="201.6" y2="765" stroke="#2e962e" stroke-width="0.6" stroke-opacity="0.8"/>
<line x1="217.3" y1="773.5" x2="217.3" y2="757.3" stroke="#2e962e" stroke-width="0.6" stroke-opacity="0.8"/>
<line x1="226" y1="773.5" x2="226" y2="766.7" stroke="#2e962e" stroke-width="0.6" stroke-opacity="0.6"/>
<line x1="235.3" y1="773.5" x2="235.3" y2="770.4" stroke="#2e962e" stroke-width="0.6" stroke-opacity="0.6"/>
<line x1="238.7" y1="773.5" x2="238.7" y2="770" stroke="#2e962e" stroke-width="0.6" stroke-opacity="0.5"/>
<line x1="241" y1="773.5" x2="241" y2="768" stroke="#2e962e" stroke-width="0.6" stroke-opacity="0.6"/>
<line x1="264.5" y1="773.5" x2="264.5" y2="763.7" stroke="#2e962e" stroke-width="0.6" stroke-opacity="0.6"/>
<line x1="267.5" y1="773.5" x2="267.5" y2="648" stroke="#2e962e" stroke-width="0.6" stroke-opacity="0.8"/>
<line x1="266.7" y1="773.5" x2="266.7" y2="735.4" stroke="#2e962e" stroke-width="0.6" stroke-opacity="0.9"/>
<line x1="271.5" y1="773.5" x2="271.5" y2="759.3" stroke="#2e962e" stroke-width="0.6" stroke-opacity="0.6"/>
<line x1="272.4" y1="773.5" x2="272.4" y2="754.8" stroke="#2e962e" stroke-width="0.6" stroke-opacity="0.7"/>
<line x1="273.3" y1="773.5" x2="273.3" y2="755.7" stroke="#2e962e" stroke-width="0.6" stroke-opacity="0.6"/>
<line x1="279" y1="773.5" x2="279" y2="768" stroke="#2e962e" stroke-width="0.6" stroke-opacity="0.6"/>
<line x1="281.8" y1="773.5" x2="281.8" y2="758" stroke="#2e962e" stroke-width="0.6" stroke-opacity="0.5"/>
<line x1="282.5" y1="773.5" x2="282.5" y2="756.6" stroke="#2e962e" stroke-width="0.6" stroke-opacity="0.7"/>
<line x1="285.7" y1="773.5" x2="285.7" y2="751" stroke="#2e962e" stroke-width="0.6" stroke-opacity="0.8"/>
<line x1="287.4" y1="773.5" x2="287.4" y2="764.6" stroke="#2e962e" stroke-width="0.6" stroke-opacity="0.6"/>
<line x1="288.3" y1="773.5" x2="288.3" y2="763.3" stroke="#2e962e" stroke-width="0.6" stroke-opacity="0.6"/>
<line x1="290" y1="773.5" x2="290" y2="765.8" stroke="#2e962e" stroke-width="0.6" stroke-opacity="0.6"/>
<line x1="293.6" y1="773.5" x2="293.6" y2="760" stroke="#2e962e" stroke-width="0.6" stroke-opacity="0.8"/>
<line x1="298" y1="773.5" x2="298" y2="770.7" stroke="#2e962e" stroke-width="0.6" stroke-opacity="0.5"/>
<line x1="301.6" y1="773.5" x2="301.6" y2="770.4" stroke="#2e962e" stroke-width="0.6" stroke-opacity="0.5"/>
<line x1="306" y1="773.5" x2="306" y2="770" stroke="#2e962e" stroke-width="0.6" stroke-opacity="0.5"/>
<line x1="324.2" y1="773.5" x2="324.2" y2="767.5" stroke="#2e962e" stroke-width="0.6" stroke-opacity="0.5"/>
<line x1="325.3" y1="773.5" x2="325.3" y2="768.3" stroke="#2e962e" stroke-width="0.6" stroke-opacity="0.5"/>
<line x1="329.7" y1="773.5" x2="329.7" y2="768.8" stroke="#2e962e" stroke-width="0.6" stroke-opacity="0.5"/>
<line x1="331.7" y1="773.5" x2="331.7" y2="755" stroke="#2e962e" stroke-width="0.6" stroke-opacity="0.7"/>
<line x1="337.5" y1="773.5" x2="337.5" y2="764.2" stroke="#2e962e" stroke-width="0.6" stroke-opacity="0.6"/>
<line x1="338.3" y1="773.5" x2="338.3" y2="766.7" stroke="#2e962e" stroke-width="0.6" stroke-opacity="0.5"/>
<line x1="345" y1="773.5" x2="345" y2="771.7" stroke="#2e962e" stroke-width="0.6" stroke-opacity="0.5"/>
<line x1="354.7" y1="773.5" x2="354.7" y2="757" stroke="#2e962e" stroke-width="0.6" stroke-opacity="0.7"/>
<line x1="355.8" y1="773.5" x2="355.8" y2="746.7" stroke="#2e962e" stroke-width="0.6" stroke-opacity="0.8"/>
<line x1="358.3" y1="773.5" x2="358.3" y2="768" stroke="#2e962e" stroke-width="0.6" stroke-opacity="0.5"/>
<line x1="360.3" y1="773.5" x2="360.3" y2="759.2" stroke="#2e962e" stroke-width="0.6" stroke-opacity="0.6"/>
<line x1="365.8" y1="773.5" x2="365.8" y2="761.7" stroke="#2e962e" stroke-width="0.6" stroke-opacity="0.6"/>
<line x1="366.7" y1="773.5" x2="366.7" y2="764" stroke="#2e962e" stroke-width="0.6" stroke-opacity="0.5"/>
<line x1="368.7" y1="773.5" x2="368.7" y2="753.8" stroke="#2e962e" stroke-width="0.6" stroke-opacity="0.6"/>
<line x1="369.5" y1="773.5" x2="369.5" y2="755" stroke="#2e962e" stroke-width="0.6" stroke-opacity="0.5"/>
<line x1="370.8" y1="773.5" x2="370.8" y2="758.3" stroke="#2e962e" stroke-width="0.6" stroke-opacity="0.5"/>
<line x1="371.7" y1="773.5" x2="371.7" y2="758.7" stroke="#2e962e" stroke-width="0.6" stroke-opacity="0.5"/>
<line x1="373" y1="773.5" x2="373" y2="764.7" stroke="#2e962e" stroke-width="0.6" stroke-opacity="0.5"/>
<line x1="375.8" y1="773.5" x2="375.8" y2="767" stroke="#2e962e" stroke-width="0.6" stroke-opacity="0.5"/>
<line x1="379.7" y1="773.5" x2="379.7" y2="761.7" stroke="#2e962e" stroke-width="0.6" stroke-opacity="0.6"/>
<line x1="385.5" y1="773.5" x2="385.5" y2="751.7" stroke="#2e962e" stroke-width="0.6" stroke-opacity="0.8"/>
<line x1="388.3" y1="773.5" x2="388.3" y2="757.5" stroke="#2e962e" stroke-width="0.6" stroke-opacity="0.6"/>
<line x1="398.7" y1="773.5" x2="398.7" y2="760" stroke="#2e962e" stroke-width="0.6" stroke-opacity="0.5"/>
<line x1="404.2" y1="773.5" x2="404.2" y2="758.3" stroke="#2e962e" stroke-width="0.6" stroke-opacity="0.5"/>
<line x1="408.7" y1="773.5" x2="408.7" y2="752.2" stroke="#2e962e" stroke-width="0.6" stroke-opacity="0.8"/>
<line x1="409.5" y1="773.5" x2="409.5" y2="767.5" stroke="#2e962e" stroke-width="0.6" stroke-opacity="0.6"/>
<line x1="410.5" y1="773.5" x2="410.5" y2="764.2" stroke="#2e962e" stroke-width="0.6" stroke-opacity="0.6"/>
<line x1="420.3" y1="773.5" x2="420.3" y2="764.2" stroke="#2e962e" stroke-width="0.6" stroke-opacity="0.6"/>
<line x1="421.2" y1="773.5" x2="421.2" y2="764" stroke="#2e962e" stroke-width="0.6" stroke-opacity="0.5"/>
<line x1="425.8" y1="773.5" x2="425.8" y2="745.8" stroke="#2e962e" stroke-width="0.6" stroke-opacity="0.7"/>
<line x1="431.7" y1="773.5" x2="431.7" y2="768" stroke="#2e962e" stroke-width="0.6" stroke-opacity="0.5"/>
<line x1="432.5" y1="773.5" x2="432.5" y2="768" stroke="#2e962e" stroke-width="0.6" stroke-opacity="0.5"/>
<line x1="442.5" y1="773.5" x2="442.5" y2="759.2" stroke="#2e962e" stroke-width="0.6" stroke-opacity="0.6"/>
<line x1="443" y1="773.5" x2="443" y2="763.3" stroke="#2e962e" stroke-width="0.6" stroke-opacity="0.7"/>
<line x1="443.7" y1="773.5" x2="443.7" y2="760" stroke="#2e962e" stroke-width="0.6" stroke-opacity="0.5"/>
<line x1="446.3" y1="773.5" x2="446.3" y2="746.7" stroke="#2e962e" stroke-width="0.6" stroke-opacity="0.7"/>
<line x1="451.7" y1="773.5" x2="451.7" y2="765.8" stroke="#2e962e" stroke-width="0.6" stroke-opacity="0.6"/>
<line x1="452.5" y1="773.5" x2="452.5" y2="759.2" stroke="#2e962e" stroke-width="0.6" stroke-opacity="0.6"/>
<line x1="453.3" y1="773.5" x2="453.3" y2="739.2" stroke="#2e962e" stroke-width="0.6" stroke-opacity="0.8"/>
<line x1="453" y1="773.5" x2="453" y2="752.5" stroke="#2e962e" stroke-width="0.6" stroke-opacity="0.8"/>
<line x1="455" y1="773.5" x2="455" y2="770" stroke="#2e962e" stroke-width="0.6" stroke-opacity="0.5"/>
<line x1="458.3" y1="773.5" x2="458.3" y2="755.8" stroke="#2e962e" stroke-width="0.6" stroke-opacity="0.6"/>
<line x1="473.3" y1="773.5" x2="473.3" y2="743" stroke="#2e962e" stroke-width="0.6" stroke-opacity="0.8"/>
<line x1="473" y1="773.5" x2="473" y2="750.8" stroke="#2e962e" stroke-width="0.6" stroke-opacity="0.8"/>
<line x1="481.7" y1="773.5" x2="481.7" y2="747" stroke="#2e962e" stroke-width="0.6" stroke-opacity="0.6"/>
<line x1="339.43" y1="773.5" x2="339.43" y2="771.88" stroke="#2e962e" stroke-width="0.5" stroke-opacity="0.5"/>
<line x1="406.52" y1="773.5" x2="406.52" y2="771.45" stroke="#2e962e" stroke-width="0.5" stroke-opacity="0.5"/>
<line x1="340.57" y1="773.5" x2="340.57" y2="771.95" stroke="#2e962e" stroke-width="0.5" stroke-opacity="0.5"/>
<line x1="346.17" y1="773.5" x2="346.17" y2="771.82" stroke="#2e962e" stroke-width="0.5" stroke-opacity="0.5"/>
<line x1="334.83" y1="773.5" x2="334.83" y2="771.84" stroke="#2e962e" stroke-width="0.5" stroke-opacity="0.5"/>
<line x1="192.05" y1="773.5" x2="192.05" y2="771.87" stroke="#2e962e" stroke-width="0.5" stroke-opacity="0.5"/>
<line x1="283.33" y1="773.5" x2="283.33" y2="771.7" stroke="#2e962e" stroke-width="0.5" stroke-opacity="0.5"/>
<line x1="150.71" y1="773.5" x2="150.71" y2="772.69" stroke="#2e962e" stroke-width="0.5" stroke-opacity="0.5"/>
<line x1="126.76" y1="773.5" x2="126.76" y2="771.68" stroke="#2e962e" stroke-width="0.5" stroke-opacity="0.5"/>
<line x1="453.04" y1="773.5" x2="453.04" y2="771.89" stroke="#2e962e" stroke-width="0.5" stroke-opacity="0.5"/>
<line x1="250.22" y1="773.5" x2="250.22" y2="771.6" stroke="#2e962e" stroke-width="0.5" stroke-opacity="0.5"/>
<line x1="405.59" y1="773.5" x2="405.59" y2="772.04" stroke="#2e962e" stroke-width="0.5" stroke-opacity="0.5"/>
<line x1="208.98" y1="773.5" x2="208.98" y2="772.49" stroke="#2e962e" stroke-width="0.5" stroke-opacity="0.5"/>
<line x1="269.9" y1="773.5" x2="269.9" y2="772.46" stroke="#2e962e" stroke-width="0.5" stroke-opacity="0.5"/>
<line x1="273.21" y1="773.5" x2="273.21" y2="771.91" stroke="#2e962e" stroke-width="0.5" stroke-opacity="0.5"/>
<line x1="460.4" y1="773.5" x2="460.4" y2="772.91" stroke="#2e962e" stroke-width="0.5" stroke-opacity="0.5"/>
<line x1="324.11" y1="773.5" x2="324.11" y2="772.93" stroke="#2e962e" stroke-width="0.5" stroke-opacity="0.5"/>
<line x1="157.21" y1="773.5" x2="157.21" y2="771.62" stroke="#2e962e" stroke-width="0.5" stroke-opacity="0.5"/>
<line x1="327.02" y1="773.5" x2="327.02" y2="771.44" stroke="#2e962e" stroke-width="0.5" stroke-opacity="0.5"/>
<line x1="279.09" y1="773.5" x2="279.09" y2="772.98" stroke="#2e962e" stroke-width="0.5" stroke-opacity="0.5"/>
<line x1="257.02" y1="773.5" x2="257.02" y2="771.99" stroke="#2e962e" stroke-width="0.5" stroke-opacity="0.5"/>
<line x1="461.83" y1="773.5" x2="461.83" y2="771.33" stroke="#2e962e" stroke-width="0.5" stroke-opacity="0.5"/>
<line x1="289.87" y1="773.5" x2="289.87" y2="772.3" stroke="#2e962e" stroke-width="0.5" stroke-opacity="0.5"/>
<line x1="150.96" y1="773.5" x2="150.96" y2="771.9" stroke="#2e962e" stroke-width="0.5" stroke-opacity="0.5"/>
<line x1="191.97" y1="773.5" x2="191.97" y2="772.74" stroke="#2e962e" stroke-width="0.5" stroke-opacity="0.5"/>
<line x1="118.78" y1="773.5" x2="118.78" y2="772.99" stroke="#2e962e" stroke-width="0.5" stroke-opacity="0.5"/>
<line x1="367.36" y1="773.5" x2="367.36" y2="772.79" stroke="#2e962e" stroke-width="0.5" stroke-opacity="0.5"/>
<line x1="472.48" y1="773.5" x2="472.48" y2="772.85" stroke="#2e962e" stroke-width="0.5" stroke-opacity="0.5"/>
<line x1="436.47" y1="773.5" x2="436.47" y2="772.78" stroke="#2e962e" stroke-width="0.5" stroke-opacity="0.5"/>
<line x1="119.61" y1="773.5" x2="119.61" y2="771.78" stroke="#2e962e" stroke-width="0.5" stroke-opacity="0.5"/>
<line x1="203.12" y1="773.5" x2="203.12" y2="771.75" stroke="#2e962e" stroke-width="0.5" stroke-opacity="0.5"/>
<line x1="182.72" y1="773.5" x2="182.72" y2="772.91" stroke="#2e962e" stroke-width="0.5" stroke-opacity="0.5"/>
<line x1="400.94" y1="773.5" x2="400.94" y2="771.79" stroke="#2e962e" stroke-width="0.5" stroke-opacity="0.5"/>
<line x1="431.24" y1="773.5" x2="431.24" y2="771.76" stroke="#2e962e" stroke-width="0.5" stroke-opacity="0.5"/>
<line x1="144.36" y1="773.5" x2="144.36" y2="771.93" stroke="#2e962e" stroke-width="0.5" stroke-opacity="0.5"/>
<line x1="376.84" y1="773.5" x2="376.84" y2="772.22" stroke="#2e962e" stroke-width="0.5" stroke-opacity="0.5"/>
<line x1="459.83" y1="773.5" x2="459.83" y2="772.57" stroke="#2e962e" stroke-width="0.5" stroke-opacity="0.5"/>
<line x1="471.73" y1="773.5" x2="471.73" y2="771.78" stroke="#2e962e" stroke-width="0.5" stroke-opacity="0.5"/>
<line x1="117.24" y1="773.5" x2="117.24" y2="772.97" stroke="#2e962e" stroke-width="0.5" stroke-opacity="0.5"/>
<line x1="355.06" y1="773.5" x2="355.06" y2="771.61" stroke="#2e962e" stroke-width="0.5" stroke-opacity="0.5"/>
<line x1="142.64" y1="773.5" x2="142.64" y2="772.47" stroke="#2e962e" stroke-width="0.5" stroke-opacity="0.5"/>
<line x1="384.35" y1="773.5" x2="384.35" y2="772.72" stroke="#2e962e" stroke-width="0.5" stroke-opacity="0.5"/>
<line x1="433.28" y1="773.5" x2="433.28" y2="772.17" stroke="#2e962e" stroke-width="0.5" stroke-opacity="0.5"/>
<line x1="135.24" y1="773.5" x2="135.24" y2="772.38" stroke="#2e962e" stroke-width="0.5" stroke-opacity="0.5"/>
<line x1="326.89" y1="773.5" x2="326.89" y2="772.25" stroke="#2e962e" stroke-width="0.5" stroke-opacity="0.5"/>
<line x1="364.8" y1="773.5" x2="364.8" y2="772.75" stroke="#2e962e" stroke-width="0.5" stroke-opacity="0.5"/>
<line x1="409.62" y1="773.5" x2="409.62" y2="772.38" stroke="#2e962e" stroke-width="0.5" stroke-opacity="0.5"/>
<line x1="352.9" y1="773.5" x2="352.9" y2="771.93" stroke="#2e962e" stroke-width="0.5" stroke-opacity="0.5"/>
<line x1="268.48" y1="773.5" x2="268.48" y2="772.34" stroke="#2e962e" stroke-width="0.5" stroke-opacity="0.5"/>
<line x1="405.48" y1="773.5" x2="405.48" y2="771.39" stroke="#2e962e" stroke-width="0.5" stroke-opacity="0.5"/>
<line x1="404.88" y1="773.5" x2="404.88" y2="772.04" stroke="#2e962e" stroke-width="0.5" stroke-opacity="0.5"/>
<line x1="221.77" y1="773.5" x2="221.77" y2="772.9" stroke="#2e962e" stroke-width="0.5" stroke-opacity="0.5"/>
<line x1="475.31" y1="773.5" x2="475.31" y2="771.8" stroke="#2e962e" stroke-width="0.5" stroke-opacity="0.5"/>
<line x1="420.8" y1="773.5" x2="420.8" y2="772.44" stroke="#2e962e" stroke-width="0.5" stroke-opacity="0.5"/>
<line x1="338.37" y1="773.5" x2="338.37" y2="771.34" stroke="#2e962e" stroke-width="0.5" stroke-opacity="0.5"/>
<line x1="422.24" y1="773.5" x2="422.24" y2="771.98" stroke="#2e962e" stroke-width="0.5" stroke-opacity="0.5"/>
<line x1="227.8" y1="773.5" x2="227.8" y2="772.27" stroke="#2e962e" stroke-width="0.5" stroke-opacity="0.5"/>
<line x1="443.38" y1="773.5" x2="443.38" y2="772.36" stroke="#2e962e" stroke-width="0.5" stroke-opacity="0.5"/>
<line x1="367.75" y1="773.5" x2="367.75" y2="771.98" stroke="#2e962e" stroke-width="0.5" stroke-opacity="0.5"/>
<line x1="446.36" y1="773.5" x2="446.36" y2="771.63" stroke="#2e962e" stroke-width="0.5" stroke-opacity="0.5"/>
<line x1="218.39" y1="773.5" x2="218.39" y2="773" stroke="#2e962e" stroke-width="0.5" stroke-opacity="0.5"/>
<line x1="210.85" y1="773.5" x2="210.85" y2="772.28" stroke="#2e962e" stroke-width="0.5" stroke-opacity="0.5"/>
<line x1="331.23" y1="773.5" x2="331.23" y2="771.61" stroke="#2e962e" stroke-width="0.5" stroke-opacity="0.5"/>
<line x1="443.13" y1="773.5" x2="443.13" y2="772.93" stroke="#2e962e" stroke-width="0.5" stroke-opacity="0.5"/>
<line x1="422.96" y1="773.5" x2="422.96" y2="771.62" stroke="#2e962e" stroke-width="0.5" stroke-opacity="0.5"/>
<line x1="435.6" y1="773.5" x2="435.6" y2="772.03" stroke="#2e962e" stroke-width="0.5" stroke-opacity="0.5"/>
<line x1="214.87" y1="773.5" x2="214.87" y2="771.55" stroke="#2e962e" stroke-width="0.5" stroke-opacity="0.5"/>
<line x1="413.22" y1="773.5" x2="413.22" y2="771.84" stroke="#2e962e" stroke-width="0.5" stroke-opacity="0.5"/>
<line x1="452.91" y1="773.5" x2="452.91" y2="772.41" stroke="#2e962e" stroke-width="0.5" stroke-opacity="0.5"/>
<line x1="144.64" y1="773.5" x2="144.64" y2="772.06" stroke="#2e962e" stroke-width="0.5" stroke-opacity="0.5"/>
<line x1="409.63" y1="773.5" x2="409.63" y2="772.66" stroke="#2e962e" stroke-width="0.5" stroke-opacity="0.5"/>
<line x1="392.07" y1="773.5" x2="392.07" y2="771.42" stroke="#2e962e" stroke-width="0.5" stroke-opacity="0.5"/>
<line x1="200.06" y1="773.5" x2="200.06" y2="771.97" stroke="#2e962e" stroke-width="0.5" stroke-opacity="0.5"/>
<line x1="365.09" y1="773.5" x2="365.09" y2="772.21" stroke="#2e962e" stroke-width="0.5" stroke-opacity="0.5"/>
<line x1="189.85" y1="773.5" x2="189.85" y2="772.57" stroke="#2e962e" stroke-width="0.5" stroke-opacity="0.5"/>
<line x1="392.42" y1="773.5" x2="392.42" y2="771.65" stroke="#2e962e" stroke-width="0.5" stroke-opacity="0.5"/>
<line x1="284.01" y1="773.5" x2="284.01" y2="772.85" stroke="#2e962e" stroke-width="0.5" stroke-opacity="0.5"/>
<line x1="413.05" y1="773.5" x2="413.05" y2="771.69" stroke="#2e962e" stroke-width="0.5" stroke-opacity="0.5"/>
<line x1="199.63" y1="773.5" x2="199.63" y2="772.01" stroke="#2e962e" stroke-width="0.5" stroke-opacity="0.5"/>
<line x1="446.66" y1="773.5" x2="446.66" y2="771.5" stroke="#2e962e" stroke-width="0.5" stroke-opacity="0.5"/>
<line x1="307.13" y1="773.5" x2="307.13" y2="772.19" stroke="#2e962e" stroke-width="0.5" stroke-opacity="0.5"/>
<line x1="332.23" y1="773.5" x2="332.23" y2="772.68" stroke="#2e962e" stroke-width="0.5" stroke-opacity="0.5"/>
<line x1="184.54" y1="773.5" x2="184.54" y2="772.69" stroke="#2e962e" stroke-width="0.5" stroke-opacity="0.5"/>
<line x1="373.8" y1="773.5" x2="373.8" y2="772.38" stroke="#2e962e" stroke-width="0.5" stroke-opacity="0.5"/>
<line x1="322.97" y1="773.5" x2="322.97" y2="772.32" stroke="#2e962e" stroke-width="0.5" stroke-opacity="0.5"/>
<line x1="305.4" y1="773.5" x2="305.4" y2="772.75" stroke="#2e962e" stroke-width="0.5" stroke-opacity="0.5"/>
<line x1="129.59" y1="773.5" x2="129.59" y2="771.3" stroke="#2e962e" stroke-width="0.5" stroke-opacity="0.5"/>
<line x1="252.14" y1="773.5" x2="252.14" y2="772.82" stroke="#2e962e" stroke-width="0.5" stroke-opacity="0.5"/>
<line x1="348.38" y1="773.5" x2="348.38" y2="771.66" stroke="#2e962e" stroke-width="0.5" stroke-opacity="0.5"/>
<line x1="171.09" y1="773.5" x2="171.09" y2="771.98" stroke="#2e962e" stroke-width="0.5" stroke-opacity="0.5"/>
<line x1="241.31" y1="773.5" x2="241.31" y2="772.12" stroke="#2e962e" stroke-width="0.5" stroke-opacity="0.5"/>
<line x1="120.65" y1="773.5" x2="120.65" y2="772.94" stroke="#2e962e" stroke-width="0.5" stroke-opacity="0.5"/>
<line x1="481.43" y1="773.5" x2="481.43" y2="771.53" stroke="#2e962e" stroke-width="0.5" stroke-opacity="0.5"/>
<line x1="293.91" y1="773.5" x2="293.91" y2="772.04" stroke="#2e962e" stroke-width="0.5" stroke-opacity="0.5"/>
<line x1="210.31" y1="773.5" x2="210.31" y2="771.68" stroke="#2e962e" stroke-width="0.5" stroke-opacity="0.5"/>
<line x1="271.45" y1="773.5" x2="271.45" y2="771.39" stroke="#2e962e" stroke-width="0.5" stroke-opacity="0.5"/>
<line x1="398.42" y1="773.5" x2="398.42" y2="771.61" stroke="#2e962e" stroke-width="0.5" stroke-opacity="0.5"/>
<line x1="471.41" y1="773.5" x2="471.41" y2="772.57" stroke="#2e962e" stroke-width="0.5" stroke-opacity="0.5"/>
<line x1="127.09" y1="773.5" x2="127.09" y2="772.66" stroke="#2e962e" stroke-width="0.5" stroke-opacity="0.5"/>
<line x1="180.23" y1="773.5" x2="180.23" y2="772.86" stroke="#2e962e" stroke-width="0.5" stroke-opacity="0.5"/>
<line x1="131.97" y1="773.5" x2="131.97" y2="772.05" stroke="#2e962e" stroke-width="0.5" stroke-opacity="0.5"/>
<line x1="436.89" y1="773.5" x2="436.89" y2="772.22" stroke="#2e962e" stroke-width="0.5" stroke-opacity="0.5"/>
<line x1="465.36" y1="773.5" x2="465.36" y2="771.45" stroke="#2e962e" stroke-width="0.5" stroke-opacity="0.5"/>
<line x1="136.88" y1="773.5" x2="136.88" y2="771.98" stroke="#2e962e" stroke-width="0.5" stroke-opacity="0.5"/>
<line x1="260.83" y1="773.5" x2="260.83" y2="772.8" stroke="#2e962e" stroke-width="0.5" stroke-opacity="0.5"/>
<line x1="469.86" y1="773.5" x2="469.86" y2="772.56" stroke="#2e962e" stroke-width="0.5" stroke-opacity="0.5"/>
<line x1="322.99" y1="773.5" x2="322.99" y2="771.91" stroke="#2e962e" stroke-width="0.5" stroke-opacity="0.5"/>
<line x1="468.79" y1="773.5" x2="468.79" y2="771.86" stroke="#2e962e" stroke-width="0.5" stroke-opacity="0.5"/>
<line x1="259.24" y1="773.5" x2="259.24" y2="772.24" stroke="#2e962e" stroke-width="0.5" stroke-opacity="0.5"/>
<line x1="172.42" y1="773.5" x2="172.42" y2="771.36" stroke="#2e962e" stroke-width="0.5" stroke-opacity="0.5"/>
<line x1="481.92" y1="773.5" x2="481.92" y2="772.62" stroke="#2e962e" stroke-width="0.5" stroke-opacity="0.5"/>
<line x1="127.37" y1="773.5" x2="127.37" y2="772.57" stroke="#2e962e" stroke-width="0.5" stroke-opacity="0.5"/>
<line x1="243.95" y1="773.5" x2="243.95" y2="771.47" stroke="#2e962e" stroke-width="0.5" stroke-opacity="0.5"/>
<line x1="449.5" y1="773.5" x2="449.5" y2="771.58" stroke="#2e962e" stroke-width="0.5" stroke-opacity="0.5"/>
<line x1="130.5" y1="773.5" x2="130.5" y2="771.66" stroke="#2e962e" stroke-width="0.5" stroke-opacity="0.5"/>
<line x1="376.97" y1="773.5" x2="376.97" y2="771.9" stroke="#2e962e" stroke-width="0.5" stroke-opacity="0.5"/>
<line x1="479.58" y1="773.5" x2="479.58" y2="772.91" stroke="#2e962e" stroke-width="0.5" stroke-opacity="0.5"/>
<line x1="166.86" y1="773.5" x2="166.86" y2="771.72" stroke="#2e962e" stroke-width="0.5" stroke-opacity="0.5"/>
<line x1="462.45" y1="773.5" x2="462.45" y2="771.85" stroke="#2e962e" stroke-width="0.5" stroke-opacity="0.5"/>
<line x1="224.15" y1="773.5" x2="224.15" y2="771.99" stroke="#2e962e" stroke-width="0.5" stroke-opacity="0.5"/>
<line x1="394.94" y1="773.5" x2="394.94" y2="772.82" stroke="#2e962e" stroke-width="0.5" stroke-opacity="0.5"/>
<line x1="233.5" y1="773.5" x2="233.5" y2="772.56" stroke="#2e962e" stroke-width="0.5" stroke-opacity="0.5"/>
<line x1="159.18" y1="773.5" x2="159.18" y2="772.18" stroke="#2e962e" stroke-width="0.5" stroke-opacity="0.5"/>
<line x1="175.71" y1="773.5" x2="175.71" y2="772.59" stroke="#2e962e" stroke-width="0.5" stroke-opacity="0.5"/>
<line x1="166.25" y1="773.5" x2="166.25" y2="771.85" stroke="#2e962e" stroke-width="0.5" stroke-opacity="0.5"/>
<line x1="117.69" y1="773.5" x2="117.69" y2="771.78" stroke="#2e962e" stroke-width="0.5" stroke-opacity="0.5"/>
<line x1="185.58" y1="773.5" x2="185.58" y2="772.94" stroke="#2e962e" stroke-width="0.5" stroke-opacity="0.5"/>
<line x1="458.1" y1="773.5" x2="458.1" y2="772.63" stroke="#2e962e" stroke-width="0.5" stroke-opacity="0.5"/>
<line x1="460.44" y1="773.5" x2="460.44" y2="771.53" stroke="#2e962e" stroke-width="0.5" stroke-opacity="0.5"/>
<line x1="443.6" y1="773.5" x2="443.6" y2="772.76" stroke="#2e962e" stroke-width="0.5" stroke-opacity="0.5"/>
<line x1="279.38" y1="773.5" x2="279.38" y2="772.84" stroke="#2e962e" stroke-width="0.5" stroke-opacity="0.5"/>
<line x1="458.51" y1="773.5" x2="458.51" y2="771.57" stroke="#2e962e" stroke-width="0.5" stroke-opacity="0.5"/>
<line x1="346.75" y1="773.5" x2="346.75" y2="772.23" stroke="#2e962e" stroke-width="0.5" stroke-opacity="0.5"/>
<line x1="239.4" y1="773.5" x2="239.4" y2="771.6" stroke="#2e962e" stroke-width="0.5" stroke-opacity="0.5"/>
<line x1="290.64" y1="773.5" x2="290.64" y2="771.93" stroke="#2e962e" stroke-width="0.5" stroke-opacity="0.5"/>
<line x1="166.11" y1="773.5" x2="166.11" y2="772.62" stroke="#2e962e" stroke-width="0.5" stroke-opacity="0.5"/>
<line x1="134.1" y1="773.5" x2="134.1" y2="771.79" stroke="#2e962e" stroke-width="0.5" stroke-opacity="0.5"/>
<line x1="318.86" y1="773.5" x2="318.86" y2="772.75" stroke="#2e962e" stroke-width="0.5" stroke-opacity="0.5"/>
<line x1="436.91" y1="773.5" x2="436.91" y2="772.55" stroke="#2e962e" stroke-width="0.5" stroke-opacity="0.5"/>
<line x1="266.18" y1="773.5" x2="266.18" y2="772.74" stroke="#2e962e" stroke-width="0.5" stroke-opacity="0.5"/>
<text transform="translate(133 746.7) scale(0.9 1)" font-size="5.67" text-anchor="middle" fill="#222" stroke="#222" stroke-width="0.14">205.16</text>
<text transform="translate(152.8 748.4) scale(0.9 1)" font-size="5.67" text-anchor="middle" fill="#222" stroke="#222" stroke-width="0.14">266.37</text>
<text transform="translate(163.2 753.8) scale(0.9 1)" font-size="5.67" text-anchor="start" fill="#222" stroke="#222" stroke-width="0.14">339.48</text>
<text transform="translate(164 760) scale(0.9 1)" font-size="5.67" text-anchor="start" fill="#222" stroke="#222" stroke-width="0.14">443.19</text>
<text transform="translate(188 751.6) scale(0.9 1)" font-size="5.67" text-anchor="middle" fill="#222" stroke="#222" stroke-width="0.14">444.09</text>
<text transform="translate(201.3 763.9) scale(0.9 1)" font-size="5.67" text-anchor="middle" fill="#222" stroke="#222" stroke-width="0.14">552.31</text>
<text transform="translate(217 756.6) scale(0.9 1)" font-size="5.67" text-anchor="middle" fill="#222" stroke="#222" stroke-width="0.14">631.91</text>
<text transform="translate(226 765.9) scale(0.9 1)" font-size="5.67" text-anchor="middle" fill="#222" stroke="#222" stroke-width="0.14">676.72</text>
<text transform="translate(267.5 646.8) scale(0.9 1)" font-size="5.67" text-anchor="middle" fill="#222" stroke="#222" stroke-width="0.14">887.54</text>
<text transform="translate(275.6 653.5) scale(0.9 1)" font-size="5.67" text-anchor="middle" fill="#222" stroke="#222" stroke-width="0.14">888.44</text>
<text transform="translate(275.6 694.8) scale(0.9 1)" font-size="5.67" text-anchor="middle" fill="#222" stroke="#222" stroke-width="0.14">888.64</text>
<text transform="translate(259.2 700.6) scale(0.9 1)" font-size="5.67" text-anchor="middle" fill="#222" stroke="#222" stroke-width="0.14">887.04</text>
<text transform="translate(258.6 730.4) scale(0.9 1)" font-size="5.67" text-anchor="middle" fill="#222" stroke="#222" stroke-width="0.14">884.14</text>
<text transform="translate(275.6 732.5) scale(0.9 1)" font-size="5.67" text-anchor="middle" fill="#222" stroke="#222" stroke-width="0.14">889.04</text>
<text transform="translate(256.1 759.9) scale(0.9 1)" font-size="5.67" text-anchor="middle" fill="#222" stroke="#222" stroke-width="0.14">870.94</text>
<text transform="translate(285.3 749.6) scale(0.9 1)" font-size="5.67" text-anchor="middle" fill="#222" stroke="#222" stroke-width="0.14">978.95</text>
<text transform="translate(302.8 756.3) scale(0.9 1)" font-size="5.67" text-anchor="middle" fill="#222" stroke="#222" stroke-width="0.14">1019.15</text>
<text transform="translate(306.3 766) scale(0.9 1)" font-size="5.67" text-anchor="middle" fill="#222" stroke="#222" stroke-width="0.14">1019.65</text>
<text transform="translate(331.7 753.9) scale(0.9 1)" font-size="5.67" text-anchor="middle" fill="#222" stroke="#222" stroke-width="0.14">1214.37</text>
<text transform="translate(356.3 745.6) scale(0.9 1)" font-size="5.67" text-anchor="middle" fill="#222" stroke="#222" stroke-width="0.14">1336.58</text>
<text transform="translate(385.8 750.9) scale(0.9 1)" font-size="5.67" text-anchor="middle" fill="#222" stroke="#222" stroke-width="0.14">1488.09</text>
<text transform="translate(408.2 750.9) scale(0.9 1)" font-size="5.67" text-anchor="middle" fill="#222" stroke="#222" stroke-width="0.14">1605.21</text>
<text transform="translate(426.2 743.9) scale(0.9 1)" font-size="5.67" text-anchor="middle" fill="#222" stroke="#222" stroke-width="0.14">1692.82</text>
<text transform="translate(453.7 737.6) scale(0.9 1)" font-size="5.67" text-anchor="middle" fill="#222" stroke="#222" stroke-width="0.14">1833.24</text>
<text transform="translate(473.7 741.9) scale(0.9 1)" font-size="5.67" text-anchor="middle" fill="#222" stroke="#222" stroke-width="0.14">1935.36</text>
<line x1="148.8" y1="748.4" x2="145.5" y2="752" stroke="#555" stroke-width="0.3"/>
<line x1="163.2" y1="751.6" x2="160" y2="754.3" stroke="#555" stroke-width="0.3"/>
<line x1="179.4" y1="757.4" x2="180.3" y2="762" stroke="#555" stroke-width="0.3"/>
<line x1="182" y1="751.5" x2="180" y2="756.5" stroke="#555" stroke-width="0.3"/>
<line x1="269.5" y1="654.4" x2="267.8" y2="657" stroke="#555" stroke-width="0.3"/>
<line x1="269.5" y1="695.6" x2="267.8" y2="698.5" stroke="#555" stroke-width="0.3"/>
<line x1="265.3" y1="700.8" x2="267.2" y2="704.5" stroke="#555" stroke-width="0.3"/>
<line x1="265" y1="730.6" x2="267.2" y2="735" stroke="#555" stroke-width="0.3"/>
<line x1="269.5" y1="733.3" x2="267.8" y2="736" stroke="#555" stroke-width="0.3"/>
<line x1="294.5" y1="756.4" x2="293.8" y2="760" stroke="#555" stroke-width="0.3"/>
<line x1="297.2" y1="765.3" x2="294.5" y2="770" stroke="#555" stroke-width="0.3"/>
</svg>

<div class="foot l">Contact at: <a>contact@horizonanalytical.com</a></div>
<div class="foot r">Proudly Owned and Operated in the USA<svg class="flag" viewBox="0 0 22 13" preserveAspectRatio="none"><rect width="22" height="13" fill="#e05050"/><g><rect y="1" width="22" height="1" fill="#fff"/><rect y="3" width="22" height="1" fill="#fff"/><rect y="5" width="22" height="1" fill="#fff"/><rect y="7" width="22" height="1" fill="#fff"/><rect y="9" width="22" height="1" fill="#fff"/><rect y="11" width="22" height="1" fill="#fff"/></g><rect width="12" height="7" fill="#4578cf"/></svg></div>
</body>
</html>
